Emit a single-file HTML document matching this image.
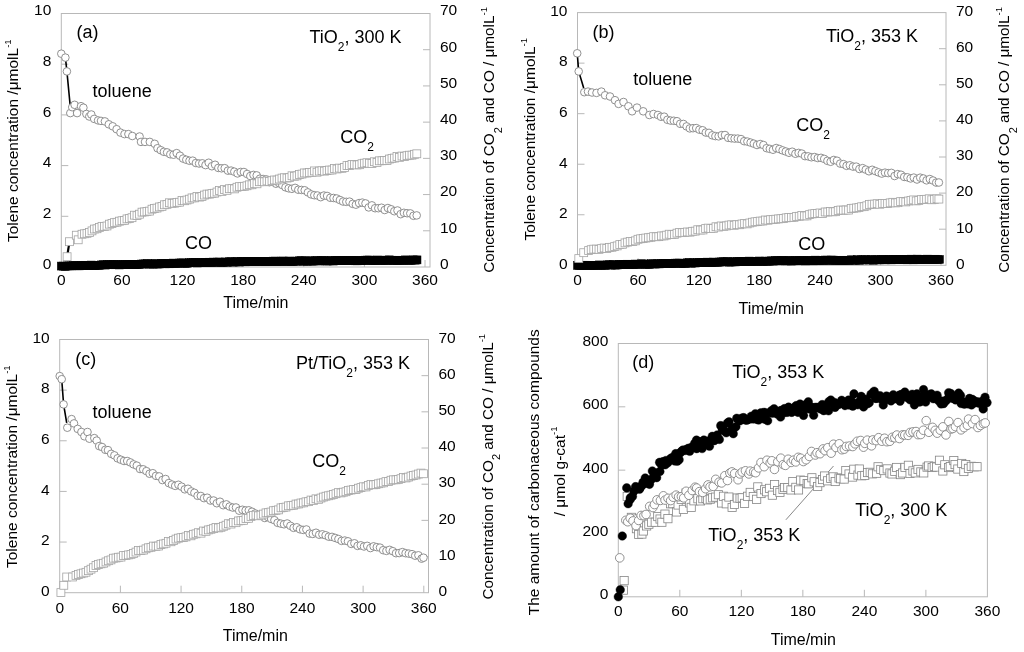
<!DOCTYPE html>
<html><head><meta charset="utf-8"><style>
html,body{margin:0;padding:0;background:#fff;}
body{width:1024px;height:652px;overflow:hidden;font-family:"Liberation Sans", sans-serif;}
svg{display:block;will-change:transform;}
</style></head><body>
<svg width="1024" height="652" viewBox="0 0 1024 652" font-family='"Liberation Sans", sans-serif' fill="#000"><rect width="1024" height="652" fill="#fff"/><rect x="61.3" y="13.5" width="368.70" height="253.50" fill="none" stroke="#b8b8b8" stroke-width="1"/><path d="M61.3 216.30h7 M61.3 165.60h7 M61.3 114.90h7 M61.3 64.20h7 M430 230.79h-7 M430 194.57h-7 M430 158.36h-7 M430 122.14h-7 M430 85.93h-7 M430 49.71h-7 M121.92 267v-7 M182.53 267v-7 M243.15 267v-7 M303.77 267v-7 M364.38 267v-7 M425.00 267v-7" stroke="#b8b8b8" stroke-width="1" fill="none"/><text x="51.30" y="268.80" font-size="15.5" text-anchor="end" >0</text><text x="51.30" y="218.10" font-size="15.5" text-anchor="end" >2</text><text x="51.30" y="167.40" font-size="15.5" text-anchor="end" >4</text><text x="51.30" y="116.70" font-size="15.5" text-anchor="end" >6</text><text x="51.30" y="66.00" font-size="15.5" text-anchor="end" >8</text><text x="51.30" y="15.30" font-size="15.5" text-anchor="end" >10</text><text x="440.00" y="268.80" font-size="15.5" text-anchor="start" >0</text><text x="440.00" y="232.59" font-size="15.5" text-anchor="start" >10</text><text x="440.00" y="196.37" font-size="15.5" text-anchor="start" >20</text><text x="440.00" y="160.16" font-size="15.5" text-anchor="start" >30</text><text x="440.00" y="123.94" font-size="15.5" text-anchor="start" >40</text><text x="440.00" y="87.73" font-size="15.5" text-anchor="start" >50</text><text x="440.00" y="51.51" font-size="15.5" text-anchor="start" >60</text><text x="440.00" y="15.30" font-size="15.5" text-anchor="start" >70</text><text x="61.30" y="285.30" font-size="15.5" text-anchor="middle" >0</text><text x="121.92" y="285.30" font-size="15.5" text-anchor="middle" >60</text><text x="182.53" y="285.30" font-size="15.5" text-anchor="middle" >120</text><text x="243.15" y="285.30" font-size="15.5" text-anchor="middle" >180</text><text x="303.77" y="285.30" font-size="15.5" text-anchor="middle" >240</text><text x="364.38" y="285.30" font-size="15.5" text-anchor="middle" >300</text><text x="425.00" y="285.30" font-size="15.5" text-anchor="middle" >360</text><rect x="577.5" y="12.6" width="368.50" height="252.70" fill="none" stroke="#b8b8b8" stroke-width="1"/><path d="M577.5 214.76h7 M577.5 164.22h7 M577.5 113.68h7 M577.5 63.14h7 M946.0 229.20h-7 M946.0 193.10h-7 M946.0 157.00h-7 M946.0 120.90h-7 M946.0 84.80h-7 M946.0 48.70h-7 M638.08 265.3v-7 M698.67 265.3v-7 M759.25 265.3v-7 M819.83 265.3v-7 M880.42 265.3v-7 M941.00 265.3v-7" stroke="#b8b8b8" stroke-width="1" fill="none"/><text x="567.50" y="268.60" font-size="15.5" text-anchor="end" >0</text><text x="567.50" y="218.06" font-size="15.5" text-anchor="end" >2</text><text x="567.50" y="167.52" font-size="15.5" text-anchor="end" >4</text><text x="567.50" y="116.98" font-size="15.5" text-anchor="end" >6</text><text x="567.50" y="66.44" font-size="15.5" text-anchor="end" >8</text><text x="567.50" y="15.90" font-size="15.5" text-anchor="end" >10</text><text x="956.00" y="268.60" font-size="15.5" text-anchor="start" >0</text><text x="956.00" y="232.50" font-size="15.5" text-anchor="start" >10</text><text x="956.00" y="196.40" font-size="15.5" text-anchor="start" >20</text><text x="956.00" y="160.30" font-size="15.5" text-anchor="start" >30</text><text x="956.00" y="124.20" font-size="15.5" text-anchor="start" >40</text><text x="956.00" y="88.10" font-size="15.5" text-anchor="start" >50</text><text x="956.00" y="52.00" font-size="15.5" text-anchor="start" >60</text><text x="956.00" y="15.90" font-size="15.5" text-anchor="start" >70</text><text x="577.50" y="285.00" font-size="15.5" text-anchor="middle" >0</text><text x="638.08" y="285.00" font-size="15.5" text-anchor="middle" >60</text><text x="698.67" y="285.00" font-size="15.5" text-anchor="middle" >120</text><text x="759.25" y="285.00" font-size="15.5" text-anchor="middle" >180</text><text x="819.83" y="285.00" font-size="15.5" text-anchor="middle" >240</text><text x="880.42" y="285.00" font-size="15.5" text-anchor="middle" >300</text><text x="941.00" y="285.00" font-size="15.5" text-anchor="middle" >360</text><rect x="59.7" y="339.5" width="368.80" height="253.20" fill="none" stroke="#b8b8b8" stroke-width="1"/><path d="M59.7 542.06h7 M59.7 491.42h7 M59.7 440.78h7 M59.7 390.14h7 M428.5 556.53h-7 M428.5 520.36h-7 M428.5 484.19h-7 M428.5 448.01h-7 M428.5 411.84h-7 M428.5 375.67h-7 M120.38 592.7v-7 M181.07 592.7v-7 M241.75 592.7v-7 M302.43 592.7v-7 M363.12 592.7v-7 M423.80 592.7v-7" stroke="#b8b8b8" stroke-width="1" fill="none"/><text x="49.70" y="596.00" font-size="15.5" text-anchor="end" >0</text><text x="49.70" y="545.36" font-size="15.5" text-anchor="end" >2</text><text x="49.70" y="494.72" font-size="15.5" text-anchor="end" >4</text><text x="49.70" y="444.08" font-size="15.5" text-anchor="end" >6</text><text x="49.70" y="393.44" font-size="15.5" text-anchor="end" >8</text><text x="49.70" y="342.80" font-size="15.5" text-anchor="end" >10</text><text x="438.50" y="596.00" font-size="15.5" text-anchor="start" >0</text><text x="438.50" y="559.83" font-size="15.5" text-anchor="start" >10</text><text x="438.50" y="523.66" font-size="15.5" text-anchor="start" >20</text><text x="438.50" y="487.49" font-size="15.5" text-anchor="start" >30</text><text x="438.50" y="451.31" font-size="15.5" text-anchor="start" >40</text><text x="438.50" y="415.14" font-size="15.5" text-anchor="start" >50</text><text x="438.50" y="378.97" font-size="15.5" text-anchor="start" >60</text><text x="438.50" y="342.80" font-size="15.5" text-anchor="start" >70</text><text x="59.70" y="613.20" font-size="15.5" text-anchor="middle" >0</text><text x="120.38" y="613.20" font-size="15.5" text-anchor="middle" >60</text><text x="181.07" y="613.20" font-size="15.5" text-anchor="middle" >120</text><text x="241.75" y="613.20" font-size="15.5" text-anchor="middle" >180</text><text x="302.43" y="613.20" font-size="15.5" text-anchor="middle" >240</text><text x="363.12" y="613.20" font-size="15.5" text-anchor="middle" >300</text><text x="423.80" y="613.20" font-size="15.5" text-anchor="middle" >360</text><polyline points="65.4,57.6 66.9,71.4 70.4,108" fill="none" stroke="#000" stroke-width="1.6"/><polyline points="67.1,256.7 69.5,241.7" fill="none" stroke="#000" stroke-width="2.2"/><g fill="#000" stroke="#000" stroke-width="0.5"><rect x="57.30" y="262.07" width="8.00" height="8.00"/><rect x="59.30" y="262.09" width="8.00" height="8.00"/><rect x="61.30" y="262.30" width="8.00" height="8.00"/><rect x="63.30" y="261.93" width="8.00" height="8.00"/><rect x="65.30" y="261.91" width="8.00" height="8.00"/><rect x="67.30" y="261.92" width="8.00" height="8.00"/><rect x="69.30" y="261.59" width="8.00" height="8.00"/><rect x="71.30" y="261.77" width="8.00" height="8.00"/><rect x="73.30" y="261.81" width="8.00" height="8.00"/><rect x="75.30" y="261.87" width="8.00" height="8.00"/><rect x="77.30" y="261.34" width="8.00" height="8.00"/><rect x="79.30" y="261.43" width="8.00" height="8.00"/><rect x="81.30" y="261.24" width="8.00" height="8.00"/><rect x="83.30" y="261.69" width="8.00" height="8.00"/><rect x="85.30" y="261.56" width="8.00" height="8.00"/><rect x="87.30" y="261.06" width="8.00" height="8.00"/><rect x="89.30" y="261.67" width="8.00" height="8.00"/><rect x="91.30" y="261.61" width="8.00" height="8.00"/><rect x="93.30" y="261.34" width="8.00" height="8.00"/><rect x="95.30" y="261.27" width="8.00" height="8.00"/><rect x="97.30" y="260.90" width="8.00" height="8.00"/><rect x="99.30" y="260.75" width="8.00" height="8.00"/><rect x="101.30" y="261.06" width="8.00" height="8.00"/><rect x="103.30" y="260.69" width="8.00" height="8.00"/><rect x="105.30" y="260.73" width="8.00" height="8.00"/><rect x="107.30" y="260.72" width="8.00" height="8.00"/><rect x="109.30" y="260.52" width="8.00" height="8.00"/><rect x="111.30" y="260.78" width="8.00" height="8.00"/><rect x="113.30" y="260.72" width="8.00" height="8.00"/><rect x="115.30" y="260.95" width="8.00" height="8.00"/><rect x="117.30" y="260.67" width="8.00" height="8.00"/><rect x="119.30" y="260.71" width="8.00" height="8.00"/><rect x="121.30" y="260.56" width="8.00" height="8.00"/><rect x="123.30" y="260.63" width="8.00" height="8.00"/><rect x="125.30" y="260.44" width="8.00" height="8.00"/><rect x="127.30" y="260.26" width="8.00" height="8.00"/><rect x="129.30" y="260.72" width="8.00" height="8.00"/><rect x="131.30" y="260.66" width="8.00" height="8.00"/><rect x="133.30" y="260.51" width="8.00" height="8.00"/><rect x="135.30" y="260.36" width="8.00" height="8.00"/><rect x="137.30" y="260.04" width="8.00" height="8.00"/><rect x="139.30" y="259.93" width="8.00" height="8.00"/><rect x="141.30" y="259.92" width="8.00" height="8.00"/><rect x="143.30" y="259.72" width="8.00" height="8.00"/><rect x="145.30" y="260.15" width="8.00" height="8.00"/><rect x="147.30" y="259.85" width="8.00" height="8.00"/><rect x="149.30" y="260.11" width="8.00" height="8.00"/><rect x="151.30" y="259.74" width="8.00" height="8.00"/><rect x="153.30" y="260.09" width="8.00" height="8.00"/><rect x="155.30" y="259.96" width="8.00" height="8.00"/><rect x="157.30" y="259.32" width="8.00" height="8.00"/><rect x="159.30" y="259.41" width="8.00" height="8.00"/><rect x="161.30" y="259.85" width="8.00" height="8.00"/><rect x="163.30" y="259.50" width="8.00" height="8.00"/><rect x="165.30" y="259.80" width="8.00" height="8.00"/><rect x="167.30" y="259.35" width="8.00" height="8.00"/><rect x="169.30" y="259.07" width="8.00" height="8.00"/><rect x="171.30" y="259.41" width="8.00" height="8.00"/><rect x="173.30" y="259.46" width="8.00" height="8.00"/><rect x="175.30" y="259.06" width="8.00" height="8.00"/><rect x="177.30" y="258.88" width="8.00" height="8.00"/><rect x="179.30" y="259.00" width="8.00" height="8.00"/><rect x="181.30" y="259.39" width="8.00" height="8.00"/><rect x="183.30" y="259.20" width="8.00" height="8.00"/><rect x="185.30" y="258.70" width="8.00" height="8.00"/><rect x="187.30" y="258.74" width="8.00" height="8.00"/><rect x="189.30" y="258.59" width="8.00" height="8.00"/><rect x="191.30" y="258.51" width="8.00" height="8.00"/><rect x="193.30" y="258.98" width="8.00" height="8.00"/><rect x="195.30" y="258.49" width="8.00" height="8.00"/><rect x="197.30" y="258.71" width="8.00" height="8.00"/><rect x="199.30" y="258.58" width="8.00" height="8.00"/><rect x="201.30" y="258.35" width="8.00" height="8.00"/><rect x="203.30" y="258.68" width="8.00" height="8.00"/><rect x="205.30" y="258.21" width="8.00" height="8.00"/><rect x="207.30" y="258.52" width="8.00" height="8.00"/><rect x="209.30" y="258.10" width="8.00" height="8.00"/><rect x="211.30" y="258.26" width="8.00" height="8.00"/><rect x="213.30" y="258.07" width="8.00" height="8.00"/><rect x="215.30" y="258.06" width="8.00" height="8.00"/><rect x="217.30" y="258.50" width="8.00" height="8.00"/><rect x="219.30" y="258.33" width="8.00" height="8.00"/><rect x="221.30" y="257.93" width="8.00" height="8.00"/><rect x="223.30" y="258.29" width="8.00" height="8.00"/><rect x="225.30" y="257.76" width="8.00" height="8.00"/><rect x="227.30" y="257.84" width="8.00" height="8.00"/><rect x="229.30" y="258.12" width="8.00" height="8.00"/><rect x="231.30" y="257.92" width="8.00" height="8.00"/><rect x="233.30" y="257.49" width="8.00" height="8.00"/><rect x="235.30" y="258.06" width="8.00" height="8.00"/><rect x="237.30" y="257.49" width="8.00" height="8.00"/><rect x="239.30" y="257.50" width="8.00" height="8.00"/><rect x="241.30" y="257.84" width="8.00" height="8.00"/><rect x="243.30" y="257.51" width="8.00" height="8.00"/><rect x="245.30" y="257.46" width="8.00" height="8.00"/><rect x="247.30" y="257.29" width="8.00" height="8.00"/><rect x="249.30" y="257.28" width="8.00" height="8.00"/><rect x="251.30" y="257.60" width="8.00" height="8.00"/><rect x="253.30" y="257.34" width="8.00" height="8.00"/><rect x="255.30" y="257.57" width="8.00" height="8.00"/><rect x="257.30" y="257.39" width="8.00" height="8.00"/><rect x="259.30" y="257.43" width="8.00" height="8.00"/><rect x="261.30" y="257.76" width="8.00" height="8.00"/><rect x="263.30" y="257.41" width="8.00" height="8.00"/><rect x="265.30" y="257.45" width="8.00" height="8.00"/><rect x="267.30" y="257.64" width="8.00" height="8.00"/><rect x="269.30" y="257.14" width="8.00" height="8.00"/><rect x="271.30" y="257.10" width="8.00" height="8.00"/><rect x="273.30" y="257.61" width="8.00" height="8.00"/><rect x="275.30" y="257.52" width="8.00" height="8.00"/><rect x="277.30" y="257.10" width="8.00" height="8.00"/><rect x="279.30" y="257.04" width="8.00" height="8.00"/><rect x="281.30" y="257.41" width="8.00" height="8.00"/><rect x="283.30" y="257.53" width="8.00" height="8.00"/><rect x="285.30" y="256.99" width="8.00" height="8.00"/><rect x="287.30" y="257.49" width="8.00" height="8.00"/><rect x="289.30" y="257.43" width="8.00" height="8.00"/><rect x="291.30" y="257.21" width="8.00" height="8.00"/><rect x="293.30" y="257.06" width="8.00" height="8.00"/><rect x="295.30" y="256.82" width="8.00" height="8.00"/><rect x="297.30" y="256.75" width="8.00" height="8.00"/><rect x="299.30" y="257.38" width="8.00" height="8.00"/><rect x="301.30" y="256.85" width="8.00" height="8.00"/><rect x="303.30" y="257.16" width="8.00" height="8.00"/><rect x="305.30" y="256.83" width="8.00" height="8.00"/><rect x="307.30" y="257.20" width="8.00" height="8.00"/><rect x="309.30" y="257.02" width="8.00" height="8.00"/><rect x="311.30" y="256.79" width="8.00" height="8.00"/><rect x="313.30" y="256.69" width="8.00" height="8.00"/><rect x="315.30" y="257.05" width="8.00" height="8.00"/><rect x="317.30" y="256.57" width="8.00" height="8.00"/><rect x="319.30" y="256.66" width="8.00" height="8.00"/><rect x="321.30" y="256.87" width="8.00" height="8.00"/><rect x="323.30" y="257.06" width="8.00" height="8.00"/><rect x="325.30" y="256.87" width="8.00" height="8.00"/><rect x="327.30" y="256.62" width="8.00" height="8.00"/><rect x="329.30" y="257.04" width="8.00" height="8.00"/><rect x="331.30" y="256.52" width="8.00" height="8.00"/><rect x="333.30" y="256.37" width="8.00" height="8.00"/><rect x="335.30" y="256.53" width="8.00" height="8.00"/><rect x="337.30" y="256.63" width="8.00" height="8.00"/><rect x="339.30" y="256.34" width="8.00" height="8.00"/><rect x="341.30" y="256.40" width="8.00" height="8.00"/><rect x="343.30" y="256.52" width="8.00" height="8.00"/><rect x="345.30" y="256.64" width="8.00" height="8.00"/><rect x="347.30" y="256.31" width="8.00" height="8.00"/><rect x="349.30" y="256.45" width="8.00" height="8.00"/><rect x="351.30" y="256.80" width="8.00" height="8.00"/><rect x="353.30" y="256.84" width="8.00" height="8.00"/><rect x="355.30" y="256.60" width="8.00" height="8.00"/><rect x="357.30" y="256.60" width="8.00" height="8.00"/><rect x="359.30" y="256.51" width="8.00" height="8.00"/><rect x="361.30" y="256.17" width="8.00" height="8.00"/><rect x="363.30" y="256.08" width="8.00" height="8.00"/><rect x="365.30" y="256.05" width="8.00" height="8.00"/><rect x="367.30" y="256.65" width="8.00" height="8.00"/><rect x="369.30" y="256.49" width="8.00" height="8.00"/><rect x="371.30" y="256.65" width="8.00" height="8.00"/><rect x="373.30" y="255.97" width="8.00" height="8.00"/><rect x="375.30" y="256.38" width="8.00" height="8.00"/><rect x="377.30" y="256.25" width="8.00" height="8.00"/><rect x="379.30" y="256.40" width="8.00" height="8.00"/><rect x="381.30" y="256.10" width="8.00" height="8.00"/><rect x="383.30" y="256.55" width="8.00" height="8.00"/><rect x="385.30" y="255.88" width="8.00" height="8.00"/><rect x="387.30" y="256.19" width="8.00" height="8.00"/><rect x="389.30" y="256.31" width="8.00" height="8.00"/><rect x="391.30" y="256.40" width="8.00" height="8.00"/><rect x="393.30" y="256.27" width="8.00" height="8.00"/><rect x="395.30" y="256.22" width="8.00" height="8.00"/><rect x="397.30" y="256.26" width="8.00" height="8.00"/><rect x="399.30" y="256.33" width="8.00" height="8.00"/><rect x="401.30" y="255.92" width="8.00" height="8.00"/><rect x="403.30" y="256.13" width="8.00" height="8.00"/><rect x="405.30" y="256.26" width="8.00" height="8.00"/><rect x="407.30" y="256.22" width="8.00" height="8.00"/><rect x="409.30" y="255.88" width="8.00" height="8.00"/><rect x="411.30" y="256.12" width="8.00" height="8.00"/><rect x="413.00" y="255.90" width="8.00" height="8.00"/></g><g fill="#fff" stroke="#858585" stroke-width="0.9"><circle cx="61.30" cy="53.70" r="3.8"/><circle cx="65.40" cy="57.60" r="3.8"/><circle cx="66.90" cy="71.40" r="3.8"/><circle cx="70.30" cy="113.10" r="3.8"/><circle cx="72.20" cy="107.20" r="3.8"/><circle cx="74.60" cy="104.80" r="3.8"/><circle cx="77.10" cy="113.10" r="3.8"/><circle cx="81.00" cy="106.20" r="3.8"/><circle cx="83.40" cy="107.70" r="3.8"/><circle cx="86.40" cy="114.00" r="3.8"/><circle cx="89.30" cy="116.50" r="3.8"/><circle cx="91.30" cy="114.50" r="3.8"/><circle cx="94.20" cy="118.90" r="3.8"/><circle cx="98.10" cy="120.40" r="3.8"/><circle cx="101.00" cy="120.90" r="3.8"/><circle cx="104.90" cy="121.40" r="3.8"/><circle cx="108.80" cy="124.30" r="3.8"/><circle cx="112.70" cy="126.30" r="3.8"/><circle cx="116.60" cy="129.20" r="3.8"/><circle cx="120.50" cy="132.60" r="3.8"/><circle cx="124.50" cy="134.10" r="3.8"/><circle cx="128.40" cy="134.10" r="3.8"/><circle cx="132.30" cy="136.00" r="3.8"/><circle cx="139.60" cy="136.50" r="3.8"/><circle cx="141.00" cy="141.90" r="3.8"/><circle cx="145.00" cy="141.90" r="3.8"/><circle cx="149.80" cy="141.90" r="3.8"/><circle cx="154.70" cy="143.80" r="3.8"/><circle cx="157.50" cy="148.24" r="3.8"/><circle cx="160.70" cy="150.17" r="3.8"/><circle cx="163.90" cy="151.81" r="3.8"/><circle cx="167.10" cy="152.39" r="3.8"/><circle cx="170.30" cy="154.28" r="3.8"/><circle cx="173.50" cy="154.70" r="3.8"/><circle cx="176.70" cy="153.12" r="3.8"/><circle cx="179.90" cy="155.70" r="3.8"/><circle cx="183.10" cy="158.58" r="3.8"/><circle cx="186.30" cy="159.77" r="3.8"/><circle cx="189.50" cy="160.76" r="3.8"/><circle cx="192.70" cy="160.66" r="3.8"/><circle cx="195.90" cy="163.03" r="3.8"/><circle cx="199.10" cy="163.52" r="3.8"/><circle cx="202.30" cy="163.34" r="3.8"/><circle cx="205.50" cy="165.10" r="3.8"/><circle cx="208.70" cy="162.74" r="3.8"/><circle cx="211.90" cy="166.25" r="3.8"/><circle cx="215.10" cy="164.76" r="3.8"/><circle cx="218.30" cy="167.93" r="3.8"/><circle cx="221.50" cy="168.30" r="3.8"/><circle cx="224.70" cy="168.19" r="3.8"/><circle cx="227.90" cy="170.66" r="3.8"/><circle cx="231.10" cy="170.60" r="3.8"/><circle cx="234.30" cy="171.68" r="3.8"/><circle cx="237.50" cy="173.43" r="3.8"/><circle cx="240.70" cy="171.95" r="3.8"/><circle cx="243.90" cy="172.02" r="3.8"/><circle cx="247.10" cy="174.01" r="3.8"/><circle cx="250.30" cy="176.03" r="3.8"/><circle cx="253.50" cy="174.91" r="3.8"/><circle cx="256.70" cy="175.39" r="3.8"/><circle cx="259.90" cy="178.71" r="3.8"/><circle cx="263.10" cy="179.00" r="3.8"/><circle cx="266.30" cy="179.39" r="3.8"/><circle cx="269.50" cy="182.18" r="3.8"/><circle cx="272.70" cy="181.33" r="3.8"/><circle cx="275.90" cy="183.69" r="3.8"/><circle cx="279.10" cy="183.11" r="3.8"/><circle cx="282.30" cy="185.06" r="3.8"/><circle cx="285.50" cy="187.30" r="3.8"/><circle cx="288.70" cy="188.31" r="3.8"/><circle cx="291.90" cy="188.82" r="3.8"/><circle cx="295.10" cy="187.88" r="3.8"/><circle cx="298.30" cy="189.74" r="3.8"/><circle cx="301.50" cy="189.93" r="3.8"/><circle cx="304.70" cy="190.29" r="3.8"/><circle cx="307.90" cy="192.38" r="3.8"/><circle cx="311.10" cy="194.39" r="3.8"/><circle cx="314.30" cy="195.22" r="3.8"/><circle cx="317.50" cy="195.51" r="3.8"/><circle cx="320.70" cy="197.16" r="3.8"/><circle cx="323.90" cy="195.53" r="3.8"/><circle cx="327.10" cy="195.95" r="3.8"/><circle cx="330.30" cy="197.78" r="3.8"/><circle cx="333.50" cy="197.96" r="3.8"/><circle cx="336.70" cy="198.51" r="3.8"/><circle cx="339.90" cy="200.00" r="3.8"/><circle cx="343.10" cy="201.54" r="3.8"/><circle cx="346.30" cy="201.84" r="3.8"/><circle cx="349.50" cy="201.65" r="3.8"/><circle cx="352.70" cy="203.85" r="3.8"/><circle cx="355.90" cy="204.68" r="3.8"/><circle cx="359.10" cy="203.09" r="3.8"/><circle cx="362.30" cy="202.61" r="3.8"/><circle cx="365.50" cy="203.42" r="3.8"/><circle cx="368.70" cy="207.41" r="3.8"/><circle cx="371.90" cy="205.36" r="3.8"/><circle cx="375.10" cy="208.23" r="3.8"/><circle cx="378.30" cy="208.21" r="3.8"/><circle cx="381.50" cy="207.73" r="3.8"/><circle cx="384.70" cy="210.00" r="3.8"/><circle cx="387.90" cy="208.03" r="3.8"/><circle cx="391.10" cy="209.27" r="3.8"/><circle cx="394.30" cy="211.23" r="3.8"/><circle cx="397.50" cy="210.48" r="3.8"/><circle cx="400.70" cy="214.16" r="3.8"/><circle cx="403.90" cy="212.81" r="3.8"/><circle cx="407.10" cy="213.24" r="3.8"/><circle cx="410.30" cy="213.41" r="3.8"/><circle cx="413.50" cy="215.78" r="3.8"/><circle cx="416.70" cy="215.40" r="3.8"/></g><g fill="#fff" stroke="#a4a4a4" stroke-width="0.8"><rect x="63.15" y="252.75" width="7.90" height="7.90"/><rect x="65.55" y="237.75" width="7.90" height="7.90"/><rect x="72.35" y="231.25" width="7.90" height="7.90"/><rect x="74.25" y="235.85" width="7.90" height="7.90"/><rect x="78.05" y="230.28" width="7.90" height="7.90"/><rect x="80.55" y="229.83" width="7.90" height="7.90"/><rect x="83.05" y="229.36" width="7.90" height="7.90"/><rect x="85.55" y="228.52" width="7.90" height="7.90"/><rect x="88.05" y="226.92" width="7.90" height="7.90"/><rect x="90.55" y="225.10" width="7.90" height="7.90"/><rect x="93.05" y="224.80" width="7.90" height="7.90"/><rect x="95.55" y="223.47" width="7.90" height="7.90"/><rect x="98.05" y="222.38" width="7.90" height="7.90"/><rect x="100.55" y="222.40" width="7.90" height="7.90"/><rect x="103.05" y="222.02" width="7.90" height="7.90"/><rect x="105.55" y="220.23" width="7.90" height="7.90"/><rect x="108.05" y="219.54" width="7.90" height="7.90"/><rect x="110.55" y="218.67" width="7.90" height="7.90"/><rect x="113.05" y="218.31" width="7.90" height="7.90"/><rect x="115.55" y="217.22" width="7.90" height="7.90"/><rect x="118.05" y="216.78" width="7.90" height="7.90"/><rect x="120.55" y="216.43" width="7.90" height="7.90"/><rect x="123.05" y="214.95" width="7.90" height="7.90"/><rect x="125.55" y="214.61" width="7.90" height="7.90"/><rect x="128.05" y="213.76" width="7.90" height="7.90"/><rect x="130.55" y="211.23" width="7.90" height="7.90"/><rect x="133.05" y="211.69" width="7.90" height="7.90"/><rect x="135.55" y="210.25" width="7.90" height="7.90"/><rect x="138.05" y="208.19" width="7.90" height="7.90"/><rect x="140.55" y="207.96" width="7.90" height="7.90"/><rect x="143.05" y="207.45" width="7.90" height="7.90"/><rect x="145.55" y="207.15" width="7.90" height="7.90"/><rect x="148.05" y="205.23" width="7.90" height="7.90"/><rect x="150.55" y="204.58" width="7.90" height="7.90"/><rect x="153.05" y="204.15" width="7.90" height="7.90"/><rect x="155.55" y="203.00" width="7.90" height="7.90"/><rect x="158.05" y="202.47" width="7.90" height="7.90"/><rect x="160.55" y="200.83" width="7.90" height="7.90"/><rect x="163.05" y="200.40" width="7.90" height="7.90"/><rect x="165.55" y="198.82" width="7.90" height="7.90"/><rect x="168.05" y="199.39" width="7.90" height="7.90"/><rect x="170.55" y="199.21" width="7.90" height="7.90"/><rect x="173.05" y="198.53" width="7.90" height="7.90"/><rect x="175.55" y="198.27" width="7.90" height="7.90"/><rect x="178.05" y="196.47" width="7.90" height="7.90"/><rect x="180.55" y="196.81" width="7.90" height="7.90"/><rect x="183.05" y="196.06" width="7.90" height="7.90"/><rect x="185.55" y="195.23" width="7.90" height="7.90"/><rect x="188.05" y="193.95" width="7.90" height="7.90"/><rect x="190.55" y="193.92" width="7.90" height="7.90"/><rect x="193.05" y="192.58" width="7.90" height="7.90"/><rect x="195.55" y="193.15" width="7.90" height="7.90"/><rect x="198.05" y="192.54" width="7.90" height="7.90"/><rect x="200.55" y="191.11" width="7.90" height="7.90"/><rect x="203.05" y="190.13" width="7.90" height="7.90"/><rect x="205.55" y="190.18" width="7.90" height="7.90"/><rect x="208.05" y="189.63" width="7.90" height="7.90"/><rect x="210.55" y="189.29" width="7.90" height="7.90"/><rect x="213.05" y="188.04" width="7.90" height="7.90"/><rect x="215.55" y="186.57" width="7.90" height="7.90"/><rect x="218.05" y="187.46" width="7.90" height="7.90"/><rect x="220.55" y="185.61" width="7.90" height="7.90"/><rect x="223.05" y="186.42" width="7.90" height="7.90"/><rect x="225.55" y="184.79" width="7.90" height="7.90"/><rect x="228.05" y="184.60" width="7.90" height="7.90"/><rect x="230.55" y="184.93" width="7.90" height="7.90"/><rect x="233.05" y="183.28" width="7.90" height="7.90"/><rect x="235.55" y="182.67" width="7.90" height="7.90"/><rect x="238.05" y="182.64" width="7.90" height="7.90"/><rect x="240.55" y="182.32" width="7.90" height="7.90"/><rect x="243.05" y="181.84" width="7.90" height="7.90"/><rect x="245.55" y="180.87" width="7.90" height="7.90"/><rect x="248.05" y="180.82" width="7.90" height="7.90"/><rect x="250.55" y="179.52" width="7.90" height="7.90"/><rect x="253.05" y="179.85" width="7.90" height="7.90"/><rect x="255.55" y="177.80" width="7.90" height="7.90"/><rect x="258.05" y="177.67" width="7.90" height="7.90"/><rect x="260.55" y="177.83" width="7.90" height="7.90"/><rect x="263.05" y="177.02" width="7.90" height="7.90"/><rect x="265.55" y="177.42" width="7.90" height="7.90"/><rect x="268.05" y="176.75" width="7.90" height="7.90"/><rect x="270.55" y="176.03" width="7.90" height="7.90"/><rect x="273.05" y="176.10" width="7.90" height="7.90"/><rect x="275.55" y="175.08" width="7.90" height="7.90"/><rect x="278.05" y="174.14" width="7.90" height="7.90"/><rect x="280.55" y="173.78" width="7.90" height="7.90"/><rect x="283.05" y="174.12" width="7.90" height="7.90"/><rect x="285.55" y="173.69" width="7.90" height="7.90"/><rect x="288.05" y="171.81" width="7.90" height="7.90"/><rect x="290.55" y="172.33" width="7.90" height="7.90"/><rect x="293.05" y="171.90" width="7.90" height="7.90"/><rect x="295.55" y="170.52" width="7.90" height="7.90"/><rect x="298.05" y="170.12" width="7.90" height="7.90"/><rect x="300.55" y="168.97" width="7.90" height="7.90"/><rect x="303.05" y="169.09" width="7.90" height="7.90"/><rect x="305.55" y="168.59" width="7.90" height="7.90"/><rect x="308.05" y="168.38" width="7.90" height="7.90"/><rect x="310.55" y="166.96" width="7.90" height="7.90"/><rect x="313.05" y="168.27" width="7.90" height="7.90"/><rect x="315.55" y="167.15" width="7.90" height="7.90"/><rect x="318.05" y="166.71" width="7.90" height="7.90"/><rect x="320.55" y="167.20" width="7.90" height="7.90"/><rect x="323.05" y="166.55" width="7.90" height="7.90"/><rect x="325.55" y="166.09" width="7.90" height="7.90"/><rect x="328.05" y="166.07" width="7.90" height="7.90"/><rect x="330.55" y="164.56" width="7.90" height="7.90"/><rect x="333.05" y="165.03" width="7.90" height="7.90"/><rect x="335.55" y="164.15" width="7.90" height="7.90"/><rect x="338.05" y="164.37" width="7.90" height="7.90"/><rect x="340.55" y="163.56" width="7.90" height="7.90"/><rect x="343.05" y="161.63" width="7.90" height="7.90"/><rect x="345.55" y="161.56" width="7.90" height="7.90"/><rect x="348.05" y="160.55" width="7.90" height="7.90"/><rect x="350.55" y="160.71" width="7.90" height="7.90"/><rect x="353.05" y="161.01" width="7.90" height="7.90"/><rect x="355.55" y="160.77" width="7.90" height="7.90"/><rect x="358.05" y="159.76" width="7.90" height="7.90"/><rect x="360.55" y="159.23" width="7.90" height="7.90"/><rect x="363.05" y="158.76" width="7.90" height="7.90"/><rect x="365.55" y="159.29" width="7.90" height="7.90"/><rect x="368.05" y="159.59" width="7.90" height="7.90"/><rect x="370.55" y="157.79" width="7.90" height="7.90"/><rect x="373.05" y="158.59" width="7.90" height="7.90"/><rect x="375.55" y="156.86" width="7.90" height="7.90"/><rect x="378.05" y="156.81" width="7.90" height="7.90"/><rect x="380.55" y="156.44" width="7.90" height="7.90"/><rect x="383.05" y="156.51" width="7.90" height="7.90"/><rect x="385.55" y="155.09" width="7.90" height="7.90"/><rect x="388.05" y="154.39" width="7.90" height="7.90"/><rect x="390.55" y="154.11" width="7.90" height="7.90"/><rect x="393.05" y="152.56" width="7.90" height="7.90"/><rect x="395.55" y="153.43" width="7.90" height="7.90"/><rect x="398.05" y="152.07" width="7.90" height="7.90"/><rect x="400.55" y="152.50" width="7.90" height="7.90"/><rect x="403.05" y="151.77" width="7.90" height="7.90"/><rect x="405.55" y="151.26" width="7.90" height="7.90"/><rect x="408.05" y="151.19" width="7.90" height="7.90"/><rect x="410.55" y="150.35" width="7.90" height="7.90"/><rect x="412.85" y="149.85" width="7.90" height="7.90"/></g><polyline points="577.2,53.3 578.7,71.4 583.7,88" fill="none" stroke="#000" stroke-width="1.6"/><g fill="#000" stroke="#000" stroke-width="0.5"><rect x="573.50" y="261.51" width="8.00" height="8.00"/><rect x="575.50" y="261.49" width="8.00" height="8.00"/><rect x="577.50" y="261.53" width="8.00" height="8.00"/><rect x="579.50" y="261.23" width="8.00" height="8.00"/><rect x="581.50" y="261.22" width="8.00" height="8.00"/><rect x="583.50" y="261.47" width="8.00" height="8.00"/><rect x="585.50" y="261.43" width="8.00" height="8.00"/><rect x="587.50" y="261.31" width="8.00" height="8.00"/><rect x="589.50" y="261.49" width="8.00" height="8.00"/><rect x="591.50" y="261.28" width="8.00" height="8.00"/><rect x="593.50" y="261.41" width="8.00" height="8.00"/><rect x="595.50" y="260.92" width="8.00" height="8.00"/><rect x="597.50" y="261.24" width="8.00" height="8.00"/><rect x="599.50" y="261.24" width="8.00" height="8.00"/><rect x="601.50" y="261.26" width="8.00" height="8.00"/><rect x="603.50" y="260.80" width="8.00" height="8.00"/><rect x="605.50" y="260.76" width="8.00" height="8.00"/><rect x="607.50" y="261.14" width="8.00" height="8.00"/><rect x="609.50" y="260.60" width="8.00" height="8.00"/><rect x="611.50" y="261.10" width="8.00" height="8.00"/><rect x="613.50" y="260.98" width="8.00" height="8.00"/><rect x="615.50" y="260.41" width="8.00" height="8.00"/><rect x="617.50" y="260.44" width="8.00" height="8.00"/><rect x="619.50" y="260.74" width="8.00" height="8.00"/><rect x="621.50" y="260.36" width="8.00" height="8.00"/><rect x="623.50" y="260.21" width="8.00" height="8.00"/><rect x="625.50" y="260.68" width="8.00" height="8.00"/><rect x="627.50" y="260.35" width="8.00" height="8.00"/><rect x="629.50" y="260.56" width="8.00" height="8.00"/><rect x="631.50" y="260.05" width="8.00" height="8.00"/><rect x="633.50" y="260.20" width="8.00" height="8.00"/><rect x="635.50" y="260.35" width="8.00" height="8.00"/><rect x="637.50" y="259.84" width="8.00" height="8.00"/><rect x="639.50" y="259.92" width="8.00" height="8.00"/><rect x="641.50" y="260.22" width="8.00" height="8.00"/><rect x="643.50" y="260.33" width="8.00" height="8.00"/><rect x="645.50" y="260.33" width="8.00" height="8.00"/><rect x="647.50" y="259.69" width="8.00" height="8.00"/><rect x="649.50" y="259.92" width="8.00" height="8.00"/><rect x="651.50" y="260.05" width="8.00" height="8.00"/><rect x="653.50" y="259.82" width="8.00" height="8.00"/><rect x="655.50" y="259.91" width="8.00" height="8.00"/><rect x="657.50" y="259.52" width="8.00" height="8.00"/><rect x="659.50" y="259.39" width="8.00" height="8.00"/><rect x="661.50" y="259.37" width="8.00" height="8.00"/><rect x="663.50" y="259.28" width="8.00" height="8.00"/><rect x="665.50" y="259.59" width="8.00" height="8.00"/><rect x="667.50" y="259.52" width="8.00" height="8.00"/><rect x="669.50" y="259.50" width="8.00" height="8.00"/><rect x="671.50" y="259.15" width="8.00" height="8.00"/><rect x="673.50" y="259.12" width="8.00" height="8.00"/><rect x="675.50" y="259.08" width="8.00" height="8.00"/><rect x="677.50" y="259.46" width="8.00" height="8.00"/><rect x="679.50" y="259.51" width="8.00" height="8.00"/><rect x="681.50" y="259.41" width="8.00" height="8.00"/><rect x="683.50" y="258.77" width="8.00" height="8.00"/><rect x="685.50" y="258.69" width="8.00" height="8.00"/><rect x="687.50" y="259.25" width="8.00" height="8.00"/><rect x="689.50" y="258.85" width="8.00" height="8.00"/><rect x="691.50" y="259.01" width="8.00" height="8.00"/><rect x="693.50" y="258.64" width="8.00" height="8.00"/><rect x="695.50" y="258.68" width="8.00" height="8.00"/><rect x="697.50" y="258.66" width="8.00" height="8.00"/><rect x="699.50" y="258.54" width="8.00" height="8.00"/><rect x="701.50" y="258.60" width="8.00" height="8.00"/><rect x="703.50" y="258.13" width="8.00" height="8.00"/><rect x="705.50" y="258.56" width="8.00" height="8.00"/><rect x="707.50" y="258.60" width="8.00" height="8.00"/><rect x="709.50" y="258.08" width="8.00" height="8.00"/><rect x="711.50" y="258.21" width="8.00" height="8.00"/><rect x="713.50" y="258.35" width="8.00" height="8.00"/><rect x="715.50" y="258.06" width="8.00" height="8.00"/><rect x="717.50" y="257.86" width="8.00" height="8.00"/><rect x="719.50" y="257.78" width="8.00" height="8.00"/><rect x="721.50" y="257.96" width="8.00" height="8.00"/><rect x="723.50" y="257.56" width="8.00" height="8.00"/><rect x="725.50" y="258.11" width="8.00" height="8.00"/><rect x="727.50" y="257.99" width="8.00" height="8.00"/><rect x="729.50" y="257.86" width="8.00" height="8.00"/><rect x="731.50" y="257.92" width="8.00" height="8.00"/><rect x="733.50" y="257.70" width="8.00" height="8.00"/><rect x="735.50" y="257.48" width="8.00" height="8.00"/><rect x="737.50" y="257.56" width="8.00" height="8.00"/><rect x="739.50" y="257.44" width="8.00" height="8.00"/><rect x="741.50" y="257.71" width="8.00" height="8.00"/><rect x="743.50" y="257.53" width="8.00" height="8.00"/><rect x="745.50" y="257.09" width="8.00" height="8.00"/><rect x="747.50" y="257.49" width="8.00" height="8.00"/><rect x="749.50" y="257.31" width="8.00" height="8.00"/><rect x="751.50" y="257.29" width="8.00" height="8.00"/><rect x="753.50" y="257.29" width="8.00" height="8.00"/><rect x="755.50" y="256.99" width="8.00" height="8.00"/><rect x="757.50" y="257.31" width="8.00" height="8.00"/><rect x="759.50" y="257.28" width="8.00" height="8.00"/><rect x="761.50" y="257.13" width="8.00" height="8.00"/><rect x="763.50" y="257.16" width="8.00" height="8.00"/><rect x="765.50" y="257.14" width="8.00" height="8.00"/><rect x="767.50" y="256.86" width="8.00" height="8.00"/><rect x="769.50" y="257.07" width="8.00" height="8.00"/><rect x="771.50" y="256.59" width="8.00" height="8.00"/><rect x="773.50" y="256.76" width="8.00" height="8.00"/><rect x="775.50" y="256.83" width="8.00" height="8.00"/><rect x="777.50" y="256.48" width="8.00" height="8.00"/><rect x="779.50" y="256.71" width="8.00" height="8.00"/><rect x="781.50" y="256.88" width="8.00" height="8.00"/><rect x="783.50" y="256.85" width="8.00" height="8.00"/><rect x="785.50" y="256.56" width="8.00" height="8.00"/><rect x="787.50" y="257.04" width="8.00" height="8.00"/><rect x="789.50" y="256.82" width="8.00" height="8.00"/><rect x="791.50" y="256.57" width="8.00" height="8.00"/><rect x="793.50" y="256.77" width="8.00" height="8.00"/><rect x="795.50" y="256.69" width="8.00" height="8.00"/><rect x="797.50" y="256.64" width="8.00" height="8.00"/><rect x="799.50" y="256.52" width="8.00" height="8.00"/><rect x="801.50" y="256.93" width="8.00" height="8.00"/><rect x="803.50" y="256.66" width="8.00" height="8.00"/><rect x="805.50" y="256.68" width="8.00" height="8.00"/><rect x="807.50" y="256.70" width="8.00" height="8.00"/><rect x="809.50" y="256.83" width="8.00" height="8.00"/><rect x="811.50" y="256.14" width="8.00" height="8.00"/><rect x="813.50" y="256.54" width="8.00" height="8.00"/><rect x="815.50" y="256.60" width="8.00" height="8.00"/><rect x="817.50" y="256.24" width="8.00" height="8.00"/><rect x="819.50" y="256.33" width="8.00" height="8.00"/><rect x="821.50" y="256.06" width="8.00" height="8.00"/><rect x="823.50" y="256.14" width="8.00" height="8.00"/><rect x="825.50" y="256.25" width="8.00" height="8.00"/><rect x="827.50" y="256.03" width="8.00" height="8.00"/><rect x="829.50" y="256.12" width="8.00" height="8.00"/><rect x="831.50" y="256.55" width="8.00" height="8.00"/><rect x="833.50" y="256.29" width="8.00" height="8.00"/><rect x="835.50" y="256.24" width="8.00" height="8.00"/><rect x="837.50" y="256.54" width="8.00" height="8.00"/><rect x="839.50" y="256.24" width="8.00" height="8.00"/><rect x="841.50" y="256.51" width="8.00" height="8.00"/><rect x="843.50" y="256.24" width="8.00" height="8.00"/><rect x="845.50" y="256.34" width="8.00" height="8.00"/><rect x="847.50" y="255.81" width="8.00" height="8.00"/><rect x="849.50" y="256.15" width="8.00" height="8.00"/><rect x="851.50" y="256.25" width="8.00" height="8.00"/><rect x="853.50" y="255.73" width="8.00" height="8.00"/><rect x="855.50" y="256.32" width="8.00" height="8.00"/><rect x="857.50" y="255.77" width="8.00" height="8.00"/><rect x="859.50" y="255.96" width="8.00" height="8.00"/><rect x="861.50" y="255.73" width="8.00" height="8.00"/><rect x="863.50" y="255.94" width="8.00" height="8.00"/><rect x="865.50" y="256.00" width="8.00" height="8.00"/><rect x="867.50" y="255.59" width="8.00" height="8.00"/><rect x="869.50" y="256.19" width="8.00" height="8.00"/><rect x="871.50" y="255.80" width="8.00" height="8.00"/><rect x="873.50" y="255.86" width="8.00" height="8.00"/><rect x="875.50" y="255.89" width="8.00" height="8.00"/><rect x="877.50" y="255.70" width="8.00" height="8.00"/><rect x="879.50" y="255.63" width="8.00" height="8.00"/><rect x="881.50" y="255.86" width="8.00" height="8.00"/><rect x="883.50" y="255.78" width="8.00" height="8.00"/><rect x="885.50" y="255.56" width="8.00" height="8.00"/><rect x="887.50" y="255.85" width="8.00" height="8.00"/><rect x="889.50" y="255.53" width="8.00" height="8.00"/><rect x="891.50" y="255.31" width="8.00" height="8.00"/><rect x="893.50" y="255.45" width="8.00" height="8.00"/><rect x="895.50" y="255.29" width="8.00" height="8.00"/><rect x="897.50" y="255.35" width="8.00" height="8.00"/><rect x="899.50" y="255.75" width="8.00" height="8.00"/><rect x="901.50" y="255.47" width="8.00" height="8.00"/><rect x="903.50" y="255.81" width="8.00" height="8.00"/><rect x="905.50" y="255.68" width="8.00" height="8.00"/><rect x="907.50" y="255.17" width="8.00" height="8.00"/><rect x="909.50" y="255.81" width="8.00" height="8.00"/><rect x="911.50" y="255.76" width="8.00" height="8.00"/><rect x="913.50" y="255.13" width="8.00" height="8.00"/><rect x="915.50" y="255.69" width="8.00" height="8.00"/><rect x="917.50" y="255.34" width="8.00" height="8.00"/><rect x="919.50" y="255.35" width="8.00" height="8.00"/><rect x="921.50" y="255.68" width="8.00" height="8.00"/><rect x="923.50" y="255.14" width="8.00" height="8.00"/><rect x="925.50" y="255.32" width="8.00" height="8.00"/><rect x="927.50" y="255.59" width="8.00" height="8.00"/><rect x="929.50" y="255.42" width="8.00" height="8.00"/><rect x="931.50" y="255.22" width="8.00" height="8.00"/><rect x="933.50" y="255.56" width="8.00" height="8.00"/><rect x="935.50" y="255.42" width="8.00" height="8.00"/></g><g fill="#fff" stroke="#858585" stroke-width="0.9"><circle cx="577.20" cy="53.30" r="3.8"/><circle cx="578.70" cy="71.40" r="3.8"/><circle cx="584.30" cy="92.20" r="3.8"/><circle cx="588.00" cy="91.60" r="3.8"/><circle cx="592.00" cy="92.50" r="3.8"/><circle cx="596.50" cy="92.90" r="3.8"/><circle cx="601.40" cy="91.60" r="3.8"/><circle cx="605.10" cy="95.30" r="3.8"/><circle cx="610.00" cy="96.50" r="3.8"/><circle cx="615.00" cy="100.20" r="3.8"/><circle cx="618.60" cy="103.90" r="3.8"/><circle cx="623.50" cy="102.00" r="3.8"/><circle cx="628.40" cy="106.30" r="3.8"/><circle cx="632.10" cy="111.30" r="3.8"/><circle cx="637.00" cy="107.60" r="3.8"/><circle cx="643.20" cy="111.30" r="3.8"/><circle cx="649.30" cy="115.00" r="3.8"/><circle cx="653.50" cy="114.00" r="3.8"/><circle cx="657.90" cy="115.00" r="3.8"/><circle cx="661.00" cy="116.76" r="3.8"/><circle cx="664.20" cy="116.68" r="3.8"/><circle cx="667.40" cy="119.79" r="3.8"/><circle cx="670.60" cy="120.60" r="3.8"/><circle cx="673.80" cy="120.75" r="3.8"/><circle cx="677.00" cy="121.22" r="3.8"/><circle cx="680.20" cy="123.80" r="3.8"/><circle cx="683.40" cy="123.95" r="3.8"/><circle cx="686.60" cy="126.40" r="3.8"/><circle cx="689.80" cy="128.41" r="3.8"/><circle cx="693.00" cy="128.22" r="3.8"/><circle cx="696.20" cy="128.09" r="3.8"/><circle cx="699.40" cy="129.67" r="3.8"/><circle cx="702.60" cy="130.27" r="3.8"/><circle cx="705.80" cy="132.54" r="3.8"/><circle cx="709.00" cy="132.86" r="3.8"/><circle cx="712.20" cy="135.30" r="3.8"/><circle cx="715.40" cy="136.10" r="3.8"/><circle cx="718.60" cy="136.35" r="3.8"/><circle cx="721.80" cy="135.09" r="3.8"/><circle cx="725.00" cy="135.02" r="3.8"/><circle cx="728.20" cy="137.84" r="3.8"/><circle cx="731.40" cy="138.28" r="3.8"/><circle cx="734.60" cy="138.60" r="3.8"/><circle cx="737.80" cy="138.57" r="3.8"/><circle cx="741.00" cy="139.08" r="3.8"/><circle cx="744.20" cy="141.19" r="3.8"/><circle cx="747.40" cy="141.59" r="3.8"/><circle cx="750.60" cy="142.59" r="3.8"/><circle cx="753.80" cy="143.67" r="3.8"/><circle cx="757.00" cy="145.00" r="3.8"/><circle cx="760.20" cy="144.03" r="3.8"/><circle cx="763.40" cy="145.02" r="3.8"/><circle cx="766.60" cy="148.16" r="3.8"/><circle cx="769.80" cy="148.89" r="3.8"/><circle cx="773.00" cy="149.74" r="3.8"/><circle cx="776.20" cy="148.03" r="3.8"/><circle cx="779.40" cy="149.06" r="3.8"/><circle cx="782.60" cy="150.37" r="3.8"/><circle cx="785.80" cy="151.49" r="3.8"/><circle cx="789.00" cy="152.75" r="3.8"/><circle cx="792.20" cy="151.71" r="3.8"/><circle cx="795.40" cy="153.76" r="3.8"/><circle cx="798.60" cy="152.91" r="3.8"/><circle cx="801.80" cy="153.61" r="3.8"/><circle cx="805.00" cy="156.14" r="3.8"/><circle cx="808.20" cy="156.37" r="3.8"/><circle cx="811.40" cy="157.26" r="3.8"/><circle cx="814.60" cy="157.06" r="3.8"/><circle cx="817.80" cy="158.04" r="3.8"/><circle cx="821.00" cy="157.83" r="3.8"/><circle cx="824.20" cy="158.91" r="3.8"/><circle cx="827.40" cy="160.84" r="3.8"/><circle cx="830.60" cy="161.78" r="3.8"/><circle cx="833.80" cy="159.96" r="3.8"/><circle cx="837.00" cy="160.74" r="3.8"/><circle cx="840.20" cy="163.57" r="3.8"/><circle cx="843.40" cy="164.11" r="3.8"/><circle cx="846.60" cy="165.83" r="3.8"/><circle cx="849.80" cy="165.30" r="3.8"/><circle cx="853.00" cy="166.60" r="3.8"/><circle cx="856.20" cy="166.64" r="3.8"/><circle cx="859.40" cy="168.98" r="3.8"/><circle cx="862.60" cy="168.14" r="3.8"/><circle cx="865.80" cy="169.63" r="3.8"/><circle cx="869.00" cy="171.28" r="3.8"/><circle cx="872.20" cy="169.78" r="3.8"/><circle cx="875.40" cy="171.13" r="3.8"/><circle cx="878.60" cy="172.40" r="3.8"/><circle cx="881.80" cy="173.59" r="3.8"/><circle cx="885.00" cy="172.65" r="3.8"/><circle cx="888.20" cy="173.10" r="3.8"/><circle cx="891.40" cy="172.87" r="3.8"/><circle cx="894.60" cy="176.00" r="3.8"/><circle cx="897.80" cy="174.09" r="3.8"/><circle cx="901.00" cy="174.75" r="3.8"/><circle cx="904.20" cy="176.93" r="3.8"/><circle cx="907.40" cy="177.31" r="3.8"/><circle cx="910.60" cy="178.44" r="3.8"/><circle cx="913.80" cy="177.60" r="3.8"/><circle cx="917.00" cy="179.52" r="3.8"/><circle cx="920.20" cy="177.67" r="3.8"/><circle cx="923.40" cy="178.50" r="3.8"/><circle cx="926.60" cy="180.33" r="3.8"/><circle cx="929.80" cy="179.05" r="3.8"/><circle cx="933.00" cy="180.51" r="3.8"/><circle cx="936.20" cy="182.59" r="3.8"/><circle cx="938.90" cy="182.50" r="3.8"/></g><g fill="#fff" stroke="#a4a4a4" stroke-width="0.8"><rect x="574.85" y="254.65" width="7.90" height="7.90"/><rect x="579.75" y="248.75" width="7.90" height="7.90"/><rect x="584.65" y="246.62" width="7.90" height="7.90"/><rect x="587.25" y="245.71" width="7.90" height="7.90"/><rect x="589.85" y="245.18" width="7.90" height="7.90"/><rect x="592.45" y="245.15" width="7.90" height="7.90"/><rect x="595.05" y="245.40" width="7.90" height="7.90"/><rect x="597.65" y="244.63" width="7.90" height="7.90"/><rect x="600.25" y="244.02" width="7.90" height="7.90"/><rect x="602.85" y="244.48" width="7.90" height="7.90"/><rect x="605.45" y="243.55" width="7.90" height="7.90"/><rect x="608.05" y="243.32" width="7.90" height="7.90"/><rect x="610.65" y="242.66" width="7.90" height="7.90"/><rect x="613.25" y="241.95" width="7.90" height="7.90"/><rect x="615.85" y="240.62" width="7.90" height="7.90"/><rect x="618.45" y="240.40" width="7.90" height="7.90"/><rect x="621.05" y="238.93" width="7.90" height="7.90"/><rect x="623.65" y="238.18" width="7.90" height="7.90"/><rect x="626.25" y="237.53" width="7.90" height="7.90"/><rect x="628.85" y="237.60" width="7.90" height="7.90"/><rect x="631.45" y="236.88" width="7.90" height="7.90"/><rect x="634.05" y="235.31" width="7.90" height="7.90"/><rect x="636.65" y="234.83" width="7.90" height="7.90"/><rect x="639.25" y="234.46" width="7.90" height="7.90"/><rect x="641.85" y="234.08" width="7.90" height="7.90"/><rect x="644.45" y="233.75" width="7.90" height="7.90"/><rect x="647.05" y="233.35" width="7.90" height="7.90"/><rect x="649.65" y="232.69" width="7.90" height="7.90"/><rect x="652.25" y="232.81" width="7.90" height="7.90"/><rect x="654.85" y="232.73" width="7.90" height="7.90"/><rect x="657.45" y="231.97" width="7.90" height="7.90"/><rect x="660.05" y="231.98" width="7.90" height="7.90"/><rect x="662.65" y="231.19" width="7.90" height="7.90"/><rect x="665.25" y="230.25" width="7.90" height="7.90"/><rect x="667.85" y="230.67" width="7.90" height="7.90"/><rect x="670.45" y="230.44" width="7.90" height="7.90"/><rect x="673.05" y="229.20" width="7.90" height="7.90"/><rect x="675.65" y="228.43" width="7.90" height="7.90"/><rect x="678.25" y="228.73" width="7.90" height="7.90"/><rect x="680.85" y="228.37" width="7.90" height="7.90"/><rect x="683.45" y="228.02" width="7.90" height="7.90"/><rect x="686.05" y="228.19" width="7.90" height="7.90"/><rect x="688.65" y="227.36" width="7.90" height="7.90"/><rect x="691.25" y="227.19" width="7.90" height="7.90"/><rect x="693.85" y="225.77" width="7.90" height="7.90"/><rect x="696.45" y="226.06" width="7.90" height="7.90"/><rect x="699.05" y="226.02" width="7.90" height="7.90"/><rect x="701.65" y="224.61" width="7.90" height="7.90"/><rect x="704.25" y="224.15" width="7.90" height="7.90"/><rect x="706.85" y="224.61" width="7.90" height="7.90"/><rect x="709.45" y="224.39" width="7.90" height="7.90"/><rect x="712.05" y="222.79" width="7.90" height="7.90"/><rect x="714.65" y="223.11" width="7.90" height="7.90"/><rect x="717.25" y="221.97" width="7.90" height="7.90"/><rect x="719.85" y="222.37" width="7.90" height="7.90"/><rect x="722.45" y="221.97" width="7.90" height="7.90"/><rect x="725.05" y="221.14" width="7.90" height="7.90"/><rect x="727.65" y="220.84" width="7.90" height="7.90"/><rect x="730.25" y="221.33" width="7.90" height="7.90"/><rect x="732.85" y="220.73" width="7.90" height="7.90"/><rect x="735.45" y="220.80" width="7.90" height="7.90"/><rect x="738.05" y="220.01" width="7.90" height="7.90"/><rect x="740.65" y="219.54" width="7.90" height="7.90"/><rect x="743.25" y="219.93" width="7.90" height="7.90"/><rect x="745.85" y="219.02" width="7.90" height="7.90"/><rect x="748.45" y="218.28" width="7.90" height="7.90"/><rect x="751.05" y="217.85" width="7.90" height="7.90"/><rect x="753.65" y="217.61" width="7.90" height="7.90"/><rect x="756.25" y="217.12" width="7.90" height="7.90"/><rect x="758.85" y="217.07" width="7.90" height="7.90"/><rect x="761.45" y="216.03" width="7.90" height="7.90"/><rect x="764.05" y="216.28" width="7.90" height="7.90"/><rect x="766.65" y="215.72" width="7.90" height="7.90"/><rect x="769.25" y="215.65" width="7.90" height="7.90"/><rect x="771.85" y="215.25" width="7.90" height="7.90"/><rect x="774.45" y="214.96" width="7.90" height="7.90"/><rect x="777.05" y="214.75" width="7.90" height="7.90"/><rect x="779.65" y="214.59" width="7.90" height="7.90"/><rect x="782.25" y="213.90" width="7.90" height="7.90"/><rect x="784.85" y="213.48" width="7.90" height="7.90"/><rect x="787.45" y="213.49" width="7.90" height="7.90"/><rect x="790.05" y="213.37" width="7.90" height="7.90"/><rect x="792.65" y="212.58" width="7.90" height="7.90"/><rect x="795.25" y="212.32" width="7.90" height="7.90"/><rect x="797.85" y="211.54" width="7.90" height="7.90"/><rect x="800.45" y="211.97" width="7.90" height="7.90"/><rect x="803.05" y="211.92" width="7.90" height="7.90"/><rect x="805.65" y="210.66" width="7.90" height="7.90"/><rect x="808.25" y="209.97" width="7.90" height="7.90"/><rect x="810.85" y="209.62" width="7.90" height="7.90"/><rect x="813.45" y="209.53" width="7.90" height="7.90"/><rect x="816.05" y="208.99" width="7.90" height="7.90"/><rect x="818.65" y="209.62" width="7.90" height="7.90"/><rect x="821.25" y="208.02" width="7.90" height="7.90"/><rect x="823.85" y="208.05" width="7.90" height="7.90"/><rect x="826.45" y="207.46" width="7.90" height="7.90"/><rect x="829.05" y="207.88" width="7.90" height="7.90"/><rect x="831.65" y="207.74" width="7.90" height="7.90"/><rect x="834.25" y="206.59" width="7.90" height="7.90"/><rect x="836.85" y="206.05" width="7.90" height="7.90"/><rect x="839.45" y="206.24" width="7.90" height="7.90"/><rect x="842.05" y="206.04" width="7.90" height="7.90"/><rect x="844.65" y="206.12" width="7.90" height="7.90"/><rect x="847.25" y="204.53" width="7.90" height="7.90"/><rect x="849.85" y="204.26" width="7.90" height="7.90"/><rect x="852.45" y="203.99" width="7.90" height="7.90"/><rect x="855.05" y="203.49" width="7.90" height="7.90"/><rect x="857.65" y="202.79" width="7.90" height="7.90"/><rect x="860.25" y="202.74" width="7.90" height="7.90"/><rect x="862.85" y="201.84" width="7.90" height="7.90"/><rect x="865.45" y="200.59" width="7.90" height="7.90"/><rect x="868.05" y="200.27" width="7.90" height="7.90"/><rect x="870.65" y="200.15" width="7.90" height="7.90"/><rect x="873.25" y="199.75" width="7.90" height="7.90"/><rect x="875.85" y="200.31" width="7.90" height="7.90"/><rect x="878.45" y="199.44" width="7.90" height="7.90"/><rect x="881.05" y="199.51" width="7.90" height="7.90"/><rect x="883.65" y="199.64" width="7.90" height="7.90"/><rect x="886.25" y="198.91" width="7.90" height="7.90"/><rect x="888.85" y="198.34" width="7.90" height="7.90"/><rect x="891.45" y="198.95" width="7.90" height="7.90"/><rect x="894.05" y="198.72" width="7.90" height="7.90"/><rect x="896.65" y="197.65" width="7.90" height="7.90"/><rect x="899.25" y="197.67" width="7.90" height="7.90"/><rect x="901.85" y="197.98" width="7.90" height="7.90"/><rect x="904.45" y="197.05" width="7.90" height="7.90"/><rect x="907.05" y="196.43" width="7.90" height="7.90"/><rect x="909.65" y="195.93" width="7.90" height="7.90"/><rect x="912.25" y="196.94" width="7.90" height="7.90"/><rect x="914.85" y="196.48" width="7.90" height="7.90"/><rect x="917.45" y="195.64" width="7.90" height="7.90"/><rect x="920.05" y="195.59" width="7.90" height="7.90"/><rect x="922.65" y="195.32" width="7.90" height="7.90"/><rect x="925.25" y="194.83" width="7.90" height="7.90"/><rect x="927.85" y="195.84" width="7.90" height="7.90"/><rect x="930.45" y="195.37" width="7.90" height="7.90"/><rect x="933.05" y="194.78" width="7.90" height="7.90"/><rect x="934.95" y="195.15" width="7.90" height="7.90"/></g><polyline points="61.7,379.2 63.6,404.4 66.7,422.8" fill="none" stroke="#000" stroke-width="1.6"/><polyline points="60.9,592.6 63.8,585.3" fill="none" stroke="#000" stroke-width="2.0"/><g fill="#fff" stroke="#858585" stroke-width="0.9"><circle cx="59.70" cy="376.10" r="3.8"/><circle cx="61.70" cy="379.20" r="3.8"/><circle cx="63.60" cy="404.40" r="3.8"/><circle cx="67.30" cy="427.70" r="3.8"/><circle cx="71.60" cy="419.10" r="3.8"/><circle cx="74.00" cy="423.40" r="3.8"/><circle cx="77.70" cy="428.90" r="3.8"/><circle cx="81.40" cy="432.00" r="3.8"/><circle cx="84.40" cy="436.30" r="3.8"/><circle cx="87.50" cy="432.00" r="3.8"/><circle cx="89.40" cy="438.70" r="3.8"/><circle cx="94.30" cy="438.10" r="3.8"/><circle cx="96.70" cy="440.60" r="3.8"/><circle cx="99.20" cy="446.10" r="3.8"/><circle cx="102.00" cy="447.00" r="3.8"/><circle cx="105.30" cy="449.80" r="3.8"/><circle cx="108.00" cy="450.12" r="3.8"/><circle cx="111.20" cy="453.84" r="3.8"/><circle cx="114.40" cy="455.36" r="3.8"/><circle cx="117.60" cy="458.34" r="3.8"/><circle cx="120.80" cy="459.70" r="3.8"/><circle cx="124.00" cy="460.99" r="3.8"/><circle cx="127.20" cy="461.01" r="3.8"/><circle cx="130.40" cy="462.44" r="3.8"/><circle cx="133.60" cy="464.40" r="3.8"/><circle cx="136.80" cy="465.63" r="3.8"/><circle cx="140.00" cy="469.01" r="3.8"/><circle cx="143.20" cy="469.31" r="3.8"/><circle cx="146.40" cy="471.13" r="3.8"/><circle cx="149.60" cy="473.76" r="3.8"/><circle cx="152.80" cy="473.22" r="3.8"/><circle cx="156.00" cy="475.86" r="3.8"/><circle cx="159.20" cy="476.41" r="3.8"/><circle cx="162.40" cy="480.06" r="3.8"/><circle cx="165.60" cy="479.03" r="3.8"/><circle cx="168.80" cy="483.08" r="3.8"/><circle cx="172.00" cy="484.59" r="3.8"/><circle cx="175.20" cy="485.87" r="3.8"/><circle cx="178.40" cy="484.78" r="3.8"/><circle cx="181.60" cy="486.65" r="3.8"/><circle cx="184.80" cy="489.35" r="3.8"/><circle cx="188.00" cy="488.75" r="3.8"/><circle cx="191.20" cy="491.41" r="3.8"/><circle cx="194.40" cy="492.80" r="3.8"/><circle cx="197.60" cy="495.79" r="3.8"/><circle cx="200.80" cy="495.96" r="3.8"/><circle cx="204.00" cy="498.15" r="3.8"/><circle cx="207.20" cy="497.71" r="3.8"/><circle cx="210.40" cy="500.57" r="3.8"/><circle cx="213.60" cy="500.51" r="3.8"/><circle cx="216.80" cy="503.24" r="3.8"/><circle cx="220.00" cy="501.73" r="3.8"/><circle cx="223.20" cy="505.21" r="3.8"/><circle cx="226.40" cy="504.37" r="3.8"/><circle cx="229.60" cy="506.54" r="3.8"/><circle cx="232.80" cy="507.56" r="3.8"/><circle cx="236.00" cy="507.46" r="3.8"/><circle cx="239.20" cy="510.69" r="3.8"/><circle cx="242.40" cy="509.78" r="3.8"/><circle cx="245.60" cy="510.43" r="3.8"/><circle cx="248.80" cy="510.33" r="3.8"/><circle cx="252.00" cy="511.72" r="3.8"/><circle cx="255.20" cy="513.46" r="3.8"/><circle cx="258.40" cy="515.54" r="3.8"/><circle cx="261.60" cy="515.69" r="3.8"/><circle cx="264.80" cy="517.99" r="3.8"/><circle cx="268.00" cy="517.09" r="3.8"/><circle cx="271.20" cy="518.98" r="3.8"/><circle cx="274.40" cy="520.16" r="3.8"/><circle cx="277.60" cy="522.81" r="3.8"/><circle cx="280.80" cy="523.62" r="3.8"/><circle cx="284.00" cy="524.30" r="3.8"/><circle cx="287.20" cy="523.50" r="3.8"/><circle cx="290.40" cy="525.80" r="3.8"/><circle cx="293.60" cy="527.84" r="3.8"/><circle cx="296.80" cy="527.30" r="3.8"/><circle cx="300.00" cy="529.31" r="3.8"/><circle cx="303.20" cy="529.94" r="3.8"/><circle cx="306.40" cy="529.47" r="3.8"/><circle cx="309.60" cy="533.57" r="3.8"/><circle cx="312.80" cy="533.92" r="3.8"/><circle cx="316.00" cy="532.75" r="3.8"/><circle cx="319.20" cy="534.72" r="3.8"/><circle cx="322.40" cy="534.33" r="3.8"/><circle cx="325.60" cy="535.26" r="3.8"/><circle cx="328.80" cy="536.71" r="3.8"/><circle cx="332.00" cy="536.87" r="3.8"/><circle cx="335.20" cy="537.93" r="3.8"/><circle cx="338.40" cy="539.05" r="3.8"/><circle cx="341.60" cy="540.89" r="3.8"/><circle cx="344.80" cy="540.54" r="3.8"/><circle cx="348.00" cy="541.32" r="3.8"/><circle cx="351.20" cy="543.90" r="3.8"/><circle cx="354.40" cy="543.27" r="3.8"/><circle cx="357.60" cy="545.90" r="3.8"/><circle cx="360.80" cy="545.33" r="3.8"/><circle cx="364.00" cy="546.49" r="3.8"/><circle cx="367.20" cy="545.86" r="3.8"/><circle cx="370.40" cy="548.07" r="3.8"/><circle cx="373.60" cy="546.34" r="3.8"/><circle cx="376.80" cy="547.14" r="3.8"/><circle cx="380.00" cy="547.64" r="3.8"/><circle cx="383.20" cy="550.16" r="3.8"/><circle cx="386.40" cy="550.90" r="3.8"/><circle cx="389.60" cy="549.85" r="3.8"/><circle cx="392.80" cy="551.19" r="3.8"/><circle cx="396.00" cy="553.21" r="3.8"/><circle cx="399.20" cy="553.06" r="3.8"/><circle cx="402.40" cy="552.10" r="3.8"/><circle cx="405.60" cy="553.19" r="3.8"/><circle cx="408.80" cy="553.61" r="3.8"/><circle cx="412.00" cy="554.16" r="3.8"/><circle cx="415.20" cy="555.71" r="3.8"/><circle cx="418.40" cy="555.30" r="3.8"/><circle cx="421.60" cy="558.66" r="3.8"/><circle cx="423.50" cy="557.70" r="3.8"/></g><g fill="#fff" stroke="#a4a4a4" stroke-width="0.8"><rect x="56.95" y="588.65" width="7.90" height="7.90"/><rect x="59.85" y="581.35" width="7.90" height="7.90"/><rect x="62.75" y="573.05" width="7.90" height="7.90"/><rect x="68.65" y="573.05" width="7.90" height="7.90"/><rect x="72.05" y="571.43" width="7.90" height="7.90"/><rect x="74.55" y="570.54" width="7.90" height="7.90"/><rect x="77.05" y="569.81" width="7.90" height="7.90"/><rect x="79.55" y="569.11" width="7.90" height="7.90"/><rect x="82.05" y="568.31" width="7.90" height="7.90"/><rect x="84.55" y="566.72" width="7.90" height="7.90"/><rect x="87.05" y="565.22" width="7.90" height="7.90"/><rect x="89.55" y="563.75" width="7.90" height="7.90"/><rect x="92.05" y="561.50" width="7.90" height="7.90"/><rect x="94.55" y="560.51" width="7.90" height="7.90"/><rect x="97.05" y="559.87" width="7.90" height="7.90"/><rect x="99.55" y="559.31" width="7.90" height="7.90"/><rect x="102.05" y="558.00" width="7.90" height="7.90"/><rect x="104.55" y="556.79" width="7.90" height="7.90"/><rect x="107.05" y="555.94" width="7.90" height="7.90"/><rect x="109.55" y="554.26" width="7.90" height="7.90"/><rect x="112.05" y="554.02" width="7.90" height="7.90"/><rect x="114.55" y="553.30" width="7.90" height="7.90"/><rect x="117.05" y="553.15" width="7.90" height="7.90"/><rect x="119.55" y="551.63" width="7.90" height="7.90"/><rect x="122.05" y="551.42" width="7.90" height="7.90"/><rect x="124.55" y="550.95" width="7.90" height="7.90"/><rect x="127.05" y="550.40" width="7.90" height="7.90"/><rect x="129.55" y="549.46" width="7.90" height="7.90"/><rect x="132.05" y="548.12" width="7.90" height="7.90"/><rect x="134.55" y="546.46" width="7.90" height="7.90"/><rect x="137.05" y="546.69" width="7.90" height="7.90"/><rect x="139.55" y="546.17" width="7.90" height="7.90"/><rect x="142.05" y="544.86" width="7.90" height="7.90"/><rect x="144.55" y="543.82" width="7.90" height="7.90"/><rect x="147.05" y="543.37" width="7.90" height="7.90"/><rect x="149.55" y="542.11" width="7.90" height="7.90"/><rect x="152.05" y="542.34" width="7.90" height="7.90"/><rect x="154.55" y="542.09" width="7.90" height="7.90"/><rect x="157.05" y="540.56" width="7.90" height="7.90"/><rect x="159.55" y="540.00" width="7.90" height="7.90"/><rect x="162.05" y="539.31" width="7.90" height="7.90"/><rect x="164.55" y="537.42" width="7.90" height="7.90"/><rect x="167.05" y="537.82" width="7.90" height="7.90"/><rect x="169.55" y="536.57" width="7.90" height="7.90"/><rect x="172.05" y="535.14" width="7.90" height="7.90"/><rect x="174.55" y="534.22" width="7.90" height="7.90"/><rect x="177.05" y="533.72" width="7.90" height="7.90"/><rect x="179.55" y="533.49" width="7.90" height="7.90"/><rect x="182.05" y="532.91" width="7.90" height="7.90"/><rect x="184.55" y="531.56" width="7.90" height="7.90"/><rect x="187.05" y="531.87" width="7.90" height="7.90"/><rect x="189.55" y="530.34" width="7.90" height="7.90"/><rect x="192.05" y="529.88" width="7.90" height="7.90"/><rect x="194.55" y="528.72" width="7.90" height="7.90"/><rect x="197.05" y="529.24" width="7.90" height="7.90"/><rect x="199.55" y="527.04" width="7.90" height="7.90"/><rect x="202.05" y="527.40" width="7.90" height="7.90"/><rect x="204.55" y="525.95" width="7.90" height="7.90"/><rect x="207.05" y="525.33" width="7.90" height="7.90"/><rect x="209.55" y="524.70" width="7.90" height="7.90"/><rect x="212.05" y="523.59" width="7.90" height="7.90"/><rect x="214.55" y="523.98" width="7.90" height="7.90"/><rect x="217.05" y="523.36" width="7.90" height="7.90"/><rect x="219.55" y="522.33" width="7.90" height="7.90"/><rect x="222.05" y="521.24" width="7.90" height="7.90"/><rect x="224.55" y="519.73" width="7.90" height="7.90"/><rect x="227.05" y="520.11" width="7.90" height="7.90"/><rect x="229.55" y="518.51" width="7.90" height="7.90"/><rect x="232.05" y="518.75" width="7.90" height="7.90"/><rect x="234.55" y="516.96" width="7.90" height="7.90"/><rect x="237.05" y="516.75" width="7.90" height="7.90"/><rect x="239.55" y="516.42" width="7.90" height="7.90"/><rect x="242.05" y="514.65" width="7.90" height="7.90"/><rect x="244.55" y="514.36" width="7.90" height="7.90"/><rect x="247.05" y="512.47" width="7.90" height="7.90"/><rect x="249.55" y="511.52" width="7.90" height="7.90"/><rect x="252.05" y="511.16" width="7.90" height="7.90"/><rect x="254.55" y="511.86" width="7.90" height="7.90"/><rect x="257.05" y="511.19" width="7.90" height="7.90"/><rect x="259.55" y="510.14" width="7.90" height="7.90"/><rect x="262.05" y="508.89" width="7.90" height="7.90"/><rect x="264.55" y="508.72" width="7.90" height="7.90"/><rect x="267.05" y="508.08" width="7.90" height="7.90"/><rect x="269.55" y="506.75" width="7.90" height="7.90"/><rect x="272.05" y="506.34" width="7.90" height="7.90"/><rect x="274.55" y="505.92" width="7.90" height="7.90"/><rect x="277.05" y="503.91" width="7.90" height="7.90"/><rect x="279.55" y="503.45" width="7.90" height="7.90"/><rect x="282.05" y="503.13" width="7.90" height="7.90"/><rect x="284.55" y="501.86" width="7.90" height="7.90"/><rect x="287.05" y="501.62" width="7.90" height="7.90"/><rect x="289.55" y="501.32" width="7.90" height="7.90"/><rect x="292.05" y="500.09" width="7.90" height="7.90"/><rect x="294.55" y="500.05" width="7.90" height="7.90"/><rect x="297.05" y="499.04" width="7.90" height="7.90"/><rect x="299.55" y="498.89" width="7.90" height="7.90"/><rect x="302.05" y="497.86" width="7.90" height="7.90"/><rect x="304.55" y="497.70" width="7.90" height="7.90"/><rect x="307.05" y="496.09" width="7.90" height="7.90"/><rect x="309.55" y="496.45" width="7.90" height="7.90"/><rect x="312.05" y="494.85" width="7.90" height="7.90"/><rect x="314.55" y="495.40" width="7.90" height="7.90"/><rect x="317.05" y="494.07" width="7.90" height="7.90"/><rect x="319.55" y="493.10" width="7.90" height="7.90"/><rect x="322.05" y="492.25" width="7.90" height="7.90"/><rect x="324.55" y="491.84" width="7.90" height="7.90"/><rect x="327.05" y="491.19" width="7.90" height="7.90"/><rect x="329.55" y="490.55" width="7.90" height="7.90"/><rect x="332.05" y="489.78" width="7.90" height="7.90"/><rect x="334.55" y="488.65" width="7.90" height="7.90"/><rect x="337.05" y="488.98" width="7.90" height="7.90"/><rect x="339.55" y="488.24" width="7.90" height="7.90"/><rect x="342.05" y="487.78" width="7.90" height="7.90"/><rect x="344.55" y="486.58" width="7.90" height="7.90"/><rect x="347.05" y="486.09" width="7.90" height="7.90"/><rect x="349.55" y="485.64" width="7.90" height="7.90"/><rect x="352.05" y="485.53" width="7.90" height="7.90"/><rect x="354.55" y="484.27" width="7.90" height="7.90"/><rect x="357.05" y="483.61" width="7.90" height="7.90"/><rect x="359.55" y="482.82" width="7.90" height="7.90"/><rect x="362.05" y="482.97" width="7.90" height="7.90"/><rect x="364.55" y="481.42" width="7.90" height="7.90"/><rect x="367.05" y="480.39" width="7.90" height="7.90"/><rect x="369.55" y="480.85" width="7.90" height="7.90"/><rect x="372.05" y="480.58" width="7.90" height="7.90"/><rect x="374.55" y="479.82" width="7.90" height="7.90"/><rect x="377.05" y="479.12" width="7.90" height="7.90"/><rect x="379.55" y="478.87" width="7.90" height="7.90"/><rect x="382.05" y="477.67" width="7.90" height="7.90"/><rect x="384.55" y="477.63" width="7.90" height="7.90"/><rect x="387.05" y="476.28" width="7.90" height="7.90"/><rect x="389.55" y="475.86" width="7.90" height="7.90"/><rect x="392.05" y="475.86" width="7.90" height="7.90"/><rect x="394.55" y="475.44" width="7.90" height="7.90"/><rect x="397.05" y="474.71" width="7.90" height="7.90"/><rect x="399.55" y="473.57" width="7.90" height="7.90"/><rect x="402.05" y="474.01" width="7.90" height="7.90"/><rect x="404.55" y="473.15" width="7.90" height="7.90"/><rect x="407.05" y="472.10" width="7.90" height="7.90"/><rect x="409.55" y="471.55" width="7.90" height="7.90"/><rect x="412.05" y="471.02" width="7.90" height="7.90"/><rect x="414.55" y="470.08" width="7.90" height="7.90"/><rect x="417.05" y="469.14" width="7.90" height="7.90"/><rect x="419.55" y="469.81" width="7.90" height="7.90"/></g><text transform="translate(18.30,140.70) rotate(-90)" font-size="15.5" text-anchor="middle">Tolene concentration /μmolL<tspan font-size="9.5" dy="-7.5">-1</tspan></text><text transform="translate(534.60,139.30) rotate(-90)" font-size="15.5" text-anchor="middle">Tolene concentration /μmolL<tspan font-size="9.5" dy="-7.5">-1</tspan></text><text transform="translate(17.30,466.70) rotate(-90)" font-size="15.5" text-anchor="middle">Tolene concentration /μmolL<tspan font-size="9.5" dy="-7.5">-1</tspan></text><text transform="translate(494.00,139.90) rotate(-90)" font-size="15.3" text-anchor="middle">Concentration of CO<tspan font-size="11" dy="7.5">2</tspan><tspan dy="-7.5"> and CO / μmolL</tspan><tspan font-size="9.5" dy="-7.5">-1</tspan></text><text transform="translate(1009.30,139.90) rotate(-90)" font-size="15.3" text-anchor="middle">Concentration of CO<tspan font-size="11" dy="7.5">2</tspan><tspan dy="-7.5"> and CO / μmolL</tspan><tspan font-size="9.5" dy="-7.5">-1</tspan></text><text transform="translate(492.90,466.70) rotate(-90)" font-size="15.3" text-anchor="middle">Concentration of CO<tspan font-size="11" dy="7.5">2</tspan><tspan dy="-7.5"> and CO / μmolL</tspan><tspan font-size="9.5" dy="-7.5">-1</tspan></text><text x="255.90" y="307.60" font-size="16" text-anchor="middle" >Time/min</text><text x="771.20" y="314.40" font-size="16" text-anchor="middle" >Time/min</text><text x="255.30" y="641.10" font-size="16" text-anchor="middle" >Time/min</text><text x="803.30" y="645.00" font-size="16" text-anchor="middle" >Time/min</text><text x="76.50" y="37.70" font-size="18">(a)</text><text x="309.50" y="42.90" font-size="18">TiO<tspan font-size="12" dy="8">2</tspan><tspan dy="-8">, 300 K</tspan></text><text x="92.60" y="96.80" font-size="18">toluene</text><text x="340.20" y="143.40" font-size="18">CO<tspan font-size="12" dy="8">2</tspan></text><text x="185.00" y="248.50" font-size="18">CO</text><text x="592.40" y="37.50" font-size="18">(b)</text><text x="825.90" y="42.00" font-size="18">TiO<tspan font-size="12" dy="8">2</tspan><tspan dy="-8">, 353 K</tspan></text><text x="633.20" y="85.20" font-size="18">toluene</text><text x="796.20" y="131.30" font-size="18">CO<tspan font-size="12" dy="8">2</tspan></text><text x="798.30" y="250.00" font-size="18">CO</text><text x="75.30" y="364.80" font-size="18">(c)</text><text x="295.90" y="369.10" font-size="18">Pt/TiO<tspan font-size="12" dy="8">2</tspan><tspan dy="-8">, 353 K</tspan></text><text x="92.60" y="417.70" font-size="18">toluene</text><text x="312.30" y="467.20" font-size="18">CO<tspan font-size="12" dy="8">2</tspan></text><rect x="618.3" y="343.5" width="369.10" height="253.30" fill="none" stroke="#b8b8b8" stroke-width="1"/><path d="M618.3 533.47h7 M618.3 470.15h7 M618.3 406.82h7 M679.82 596.8v-7 M741.33 596.8v-7 M802.85 596.8v-7 M864.37 596.8v-7 M925.88 596.8v-7" stroke="#b8b8b8" stroke-width="1" fill="none"/><text x="608.30" y="599.30" font-size="15.5" text-anchor="end" >0</text><text x="608.30" y="535.97" font-size="15.5" text-anchor="end" >200</text><text x="608.30" y="472.65" font-size="15.5" text-anchor="end" >400</text><text x="608.30" y="409.32" font-size="15.5" text-anchor="end" >600</text><text x="608.30" y="346.00" font-size="15.5" text-anchor="end" >800</text><text x="618.30" y="615.80" font-size="15.5" text-anchor="middle" >0</text><text x="679.82" y="615.80" font-size="15.5" text-anchor="middle" >60</text><text x="741.33" y="615.80" font-size="15.5" text-anchor="middle" >120</text><text x="802.85" y="615.80" font-size="15.5" text-anchor="middle" >180</text><text x="864.37" y="615.80" font-size="15.5" text-anchor="middle" >240</text><text x="925.88" y="615.80" font-size="15.5" text-anchor="middle" >300</text><text x="987.40" y="615.80" font-size="15.5" text-anchor="middle" >360</text><text transform="translate(538.60,472.30) rotate(-90)" font-size="15.5" text-anchor="middle">The amount of carbonaceous compounds</text><text transform="translate(564.60,471.40) rotate(-90)" font-size="15.5" text-anchor="middle">/ μmol g-cat<tspan font-size="9.5" dy="-7.5">-1</tspan></text><text x="632.30" y="367.60" font-size="18">(d)</text><text x="732.20" y="377.70" font-size="18">TiO<tspan font-size="12" dy="8">2</tspan><tspan dy="-8">, 353 K</tspan></text><text x="855.30" y="515.80" font-size="18">TiO<tspan font-size="12" dy="8">2</tspan><tspan dy="-8">, 300 K</tspan></text><text x="708.30" y="541.40" font-size="18">TiO<tspan font-size="12" dy="8">2</tspan><tspan dy="-8">, 353 K</tspan></text><line x1="785.9" y1="519.8" x2="833.5" y2="466" stroke="#555" stroke-width="0.7"/><g fill="#fff" stroke="#858585" stroke-width="0.8"><rect x="619.33" y="586.05" width="8.20" height="8.20"/><rect x="620.04" y="576.55" width="8.20" height="8.20"/><rect x="623.12" y="492.33" width="8.20" height="8.20"/><rect x="627.25" y="513.26" width="8.20" height="8.20"/><rect x="629.04" y="514.94" width="8.20" height="8.20"/><rect x="632.32" y="524.58" width="8.20" height="8.20"/><rect x="634.61" y="530.31" width="8.20" height="8.20"/><rect x="637.81" y="529.97" width="8.20" height="8.20"/><rect x="639.23" y="526.89" width="8.20" height="8.20"/><rect x="642.56" y="521.83" width="8.20" height="8.20"/><rect x="644.75" y="520.13" width="8.20" height="8.20"/><rect x="647.51" y="518.08" width="8.20" height="8.20"/><rect x="651.13" y="518.12" width="8.20" height="8.20"/><rect x="653.67" y="512.47" width="8.20" height="8.20"/><rect x="655.96" y="514.93" width="8.20" height="8.20"/><rect x="657.77" y="518.13" width="8.20" height="8.20"/><rect x="660.85" y="510.01" width="8.20" height="8.20"/><rect x="663.82" y="514.58" width="8.20" height="8.20"/><rect x="666.45" y="499.68" width="8.20" height="8.20"/><rect x="668.69" y="499.54" width="8.20" height="8.20"/><rect x="672.46" y="507.85" width="8.20" height="8.20"/><rect x="674.00" y="500.90" width="8.20" height="8.20"/><rect x="677.11" y="495.29" width="8.20" height="8.20"/><rect x="679.29" y="505.30" width="8.20" height="8.20"/><rect x="682.01" y="488.85" width="8.20" height="8.20"/><rect x="685.36" y="498.84" width="8.20" height="8.20"/><rect x="687.09" y="503.27" width="8.20" height="8.20"/><rect x="689.85" y="496.70" width="8.20" height="8.20"/><rect x="693.79" y="494.64" width="8.20" height="8.20"/><rect x="696.40" y="496.79" width="8.20" height="8.20"/><rect x="698.79" y="494.60" width="8.20" height="8.20"/><rect x="701.84" y="494.26" width="8.20" height="8.20"/><rect x="703.37" y="495.79" width="8.20" height="8.20"/><rect x="706.17" y="495.05" width="8.20" height="8.20"/><rect x="708.63" y="493.70" width="8.20" height="8.20"/><rect x="711.38" y="493.03" width="8.20" height="8.20"/><rect x="714.27" y="490.63" width="8.20" height="8.20"/><rect x="717.40" y="498.88" width="8.20" height="8.20"/><rect x="719.37" y="492.17" width="8.20" height="8.20"/><rect x="722.15" y="499.70" width="8.20" height="8.20"/><rect x="724.78" y="492.94" width="8.20" height="8.20"/><rect x="728.02" y="503.38" width="8.20" height="8.20"/><rect x="730.37" y="500.38" width="8.20" height="8.20"/><rect x="733.18" y="493.93" width="8.20" height="8.20"/><rect x="735.96" y="494.14" width="8.20" height="8.20"/><rect x="738.12" y="493.70" width="8.20" height="8.20"/><rect x="740.47" y="499.26" width="8.20" height="8.20"/><rect x="743.45" y="492.17" width="8.20" height="8.20"/><rect x="746.11" y="488.31" width="8.20" height="8.20"/><rect x="749.20" y="492.47" width="8.20" height="8.20"/><rect x="752.57" y="495.19" width="8.20" height="8.20"/><rect x="753.71" y="482.80" width="8.20" height="8.20"/><rect x="756.94" y="489.44" width="8.20" height="8.20"/><rect x="760.48" y="485.73" width="8.20" height="8.20"/><rect x="762.54" y="487.65" width="8.20" height="8.20"/><rect x="765.35" y="484.27" width="8.20" height="8.20"/><rect x="768.24" y="491.07" width="8.20" height="8.20"/><rect x="770.48" y="480.44" width="8.20" height="8.20"/><rect x="773.41" y="486.42" width="8.20" height="8.20"/><rect x="775.82" y="488.25" width="8.20" height="8.20"/><rect x="778.90" y="485.21" width="8.20" height="8.20"/><rect x="780.58" y="483.50" width="8.20" height="8.20"/><rect x="783.69" y="483.46" width="8.20" height="8.20"/><rect x="786.88" y="485.83" width="8.20" height="8.20"/><rect x="788.69" y="477.59" width="8.20" height="8.20"/><rect x="791.76" y="483.24" width="8.20" height="8.20"/><rect x="794.44" y="485.83" width="8.20" height="8.20"/><rect x="796.37" y="476.00" width="8.20" height="8.20"/><rect x="799.89" y="476.48" width="8.20" height="8.20"/><rect x="803.04" y="479.55" width="8.20" height="8.20"/><rect x="804.34" y="479.65" width="8.20" height="8.20"/><rect x="807.77" y="473.68" width="8.20" height="8.20"/><rect x="810.06" y="477.68" width="8.20" height="8.20"/><rect x="813.58" y="482.39" width="8.20" height="8.20"/><rect x="815.88" y="478.53" width="8.20" height="8.20"/><rect x="818.50" y="475.45" width="8.20" height="8.20"/><rect x="820.54" y="471.91" width="8.20" height="8.20"/><rect x="823.46" y="476.71" width="8.20" height="8.20"/><rect x="826.63" y="474.27" width="8.20" height="8.20"/><rect x="829.14" y="472.78" width="8.20" height="8.20"/><rect x="831.11" y="477.43" width="8.20" height="8.20"/><rect x="834.94" y="473.86" width="8.20" height="8.20"/><rect x="836.55" y="474.63" width="8.20" height="8.20"/><rect x="840.07" y="474.95" width="8.20" height="8.20"/><rect x="841.72" y="466.53" width="8.20" height="8.20"/><rect x="844.95" y="469.90" width="8.20" height="8.20"/><rect x="848.51" y="472.96" width="8.20" height="8.20"/><rect x="849.69" y="465.14" width="8.20" height="8.20"/><rect x="853.87" y="470.97" width="8.20" height="8.20"/><rect x="855.19" y="464.94" width="8.20" height="8.20"/><rect x="857.68" y="471.67" width="8.20" height="8.20"/><rect x="860.67" y="471.32" width="8.20" height="8.20"/><rect x="863.58" y="468.45" width="8.20" height="8.20"/><rect x="866.10" y="468.21" width="8.20" height="8.20"/><rect x="868.34" y="469.76" width="8.20" height="8.20"/><rect x="872.54" y="469.14" width="8.20" height="8.20"/><rect x="873.98" y="462.70" width="8.20" height="8.20"/><rect x="876.69" y="465.36" width="8.20" height="8.20"/><rect x="879.69" y="466.48" width="8.20" height="8.20"/><rect x="883.10" y="464.80" width="8.20" height="8.20"/><rect x="885.85" y="468.93" width="8.20" height="8.20"/><rect x="887.92" y="469.84" width="8.20" height="8.20"/><rect x="890.65" y="467.23" width="8.20" height="8.20"/><rect x="892.37" y="463.36" width="8.20" height="8.20"/><rect x="896.32" y="470.51" width="8.20" height="8.20"/><rect x="898.55" y="468.87" width="8.20" height="8.20"/><rect x="900.90" y="463.29" width="8.20" height="8.20"/><rect x="904.29" y="461.19" width="8.20" height="8.20"/><rect x="905.95" y="469.34" width="8.20" height="8.20"/><rect x="908.83" y="466.82" width="8.20" height="8.20"/><rect x="911.20" y="468.77" width="8.20" height="8.20"/><rect x="913.93" y="465.33" width="8.20" height="8.20"/><rect x="916.76" y="467.80" width="8.20" height="8.20"/><rect x="919.65" y="468.79" width="8.20" height="8.20"/><rect x="922.98" y="463.04" width="8.20" height="8.20"/><rect x="924.59" y="461.87" width="8.20" height="8.20"/><rect x="928.04" y="463.42" width="8.20" height="8.20"/><rect x="930.18" y="462.32" width="8.20" height="8.20"/><rect x="932.55" y="462.95" width="8.20" height="8.20"/><rect x="935.35" y="456.16" width="8.20" height="8.20"/><rect x="938.74" y="466.87" width="8.20" height="8.20"/><rect x="940.69" y="460.69" width="8.20" height="8.20"/><rect x="944.42" y="463.44" width="8.20" height="8.20"/><rect x="946.17" y="462.47" width="8.20" height="8.20"/><rect x="949.71" y="456.51" width="8.20" height="8.20"/><rect x="950.95" y="460.47" width="8.20" height="8.20"/><rect x="953.72" y="464.95" width="8.20" height="8.20"/><rect x="957.66" y="459.36" width="8.20" height="8.20"/><rect x="959.75" y="467.44" width="8.20" height="8.20"/><rect x="961.67" y="460.51" width="8.20" height="8.20"/><rect x="964.32" y="464.26" width="8.20" height="8.20"/><rect x="967.16" y="462.23" width="8.20" height="8.20"/><rect x="970.08" y="462.69" width="8.20" height="8.20"/><rect x="972.93" y="462.62" width="8.20" height="8.20"/></g><g fill="#fff" stroke="#858585" stroke-width="0.9"><circle cx="619.74" cy="557.86" r="4.3"/><circle cx="625.81" cy="520.34" r="4.3"/><circle cx="627.76" cy="521.73" r="4.3"/><circle cx="630.24" cy="518.19" r="4.3"/><circle cx="633.00" cy="520.91" r="4.3"/><circle cx="635.99" cy="525.62" r="4.3"/><circle cx="638.62" cy="520.44" r="4.3"/><circle cx="641.14" cy="515.46" r="4.3"/><circle cx="643.89" cy="515.62" r="4.3"/><circle cx="646.04" cy="514.47" r="4.3"/><circle cx="649.68" cy="506.39" r="4.3"/><circle cx="652.90" cy="507.52" r="4.3"/><circle cx="654.48" cy="504.57" r="4.3"/><circle cx="657.01" cy="499.85" r="4.3"/><circle cx="660.43" cy="500.40" r="4.3"/><circle cx="663.39" cy="495.81" r="4.3"/><circle cx="665.04" cy="500.09" r="4.3"/><circle cx="668.01" cy="498.32" r="4.3"/><circle cx="670.62" cy="500.59" r="4.3"/><circle cx="673.19" cy="497.23" r="4.3"/><circle cx="676.12" cy="495.14" r="4.3"/><circle cx="678.64" cy="496.76" r="4.3"/><circle cx="681.42" cy="496.70" r="4.3"/><circle cx="683.71" cy="497.86" r="4.3"/><circle cx="686.14" cy="491.28" r="4.3"/><circle cx="688.90" cy="495.24" r="4.3"/><circle cx="692.25" cy="490.53" r="4.3"/><circle cx="695.11" cy="487.20" r="4.3"/><circle cx="696.69" cy="488.04" r="4.3"/><circle cx="699.42" cy="491.64" r="4.3"/><circle cx="702.63" cy="492.45" r="4.3"/><circle cx="705.59" cy="488.74" r="4.3"/><circle cx="708.06" cy="484.92" r="4.3"/><circle cx="710.02" cy="486.77" r="4.3"/><circle cx="713.20" cy="486.36" r="4.3"/><circle cx="715.73" cy="479.33" r="4.3"/><circle cx="719.05" cy="482.18" r="4.3"/><circle cx="721.63" cy="482.93" r="4.3"/><circle cx="724.84" cy="475.73" r="4.3"/><circle cx="727.48" cy="480.49" r="4.3"/><circle cx="729.87" cy="473.04" r="4.3"/><circle cx="731.96" cy="471.90" r="4.3"/><circle cx="734.64" cy="473.46" r="4.3"/><circle cx="738.04" cy="479.75" r="4.3"/><circle cx="739.91" cy="473.92" r="4.3"/><circle cx="742.19" cy="472.04" r="4.3"/><circle cx="745.45" cy="470.79" r="4.3"/><circle cx="748.86" cy="473.94" r="4.3"/><circle cx="750.21" cy="471.12" r="4.3"/><circle cx="753.72" cy="471.66" r="4.3"/><circle cx="755.67" cy="472.70" r="4.3"/><circle cx="758.59" cy="467.91" r="4.3"/><circle cx="761.01" cy="462.49" r="4.3"/><circle cx="764.17" cy="466.68" r="4.3"/><circle cx="766.96" cy="460.25" r="4.3"/><circle cx="770.18" cy="462.97" r="4.3"/><circle cx="771.83" cy="460.77" r="4.3"/><circle cx="774.46" cy="469.42" r="4.3"/><circle cx="777.77" cy="461.71" r="4.3"/><circle cx="780.83" cy="458.18" r="4.3"/><circle cx="783.27" cy="464.59" r="4.3"/><circle cx="785.41" cy="465.37" r="4.3"/><circle cx="788.19" cy="459.24" r="4.3"/><circle cx="791.15" cy="462.40" r="4.3"/><circle cx="793.47" cy="460.18" r="4.3"/><circle cx="795.80" cy="461.91" r="4.3"/><circle cx="798.23" cy="457.34" r="4.3"/><circle cx="800.72" cy="458.20" r="4.3"/><circle cx="803.39" cy="461.54" r="4.3"/><circle cx="806.13" cy="459.72" r="4.3"/><circle cx="809.33" cy="456.42" r="4.3"/><circle cx="811.54" cy="451.47" r="4.3"/><circle cx="815.33" cy="455.01" r="4.3"/><circle cx="817.02" cy="452.76" r="4.3"/><circle cx="820.09" cy="453.69" r="4.3"/><circle cx="823.09" cy="448.95" r="4.3"/><circle cx="825.01" cy="450.65" r="4.3"/><circle cx="827.81" cy="447.71" r="4.3"/><circle cx="831.15" cy="453.15" r="4.3"/><circle cx="833.51" cy="444.25" r="4.3"/><circle cx="835.94" cy="447.49" r="4.3"/><circle cx="839.26" cy="443.80" r="4.3"/><circle cx="841.88" cy="449.72" r="4.3"/><circle cx="844.34" cy="449.13" r="4.3"/><circle cx="846.30" cy="446.45" r="4.3"/><circle cx="849.53" cy="446.03" r="4.3"/><circle cx="852.77" cy="446.53" r="4.3"/><circle cx="855.03" cy="443.83" r="4.3"/><circle cx="857.27" cy="441.27" r="4.3"/><circle cx="860.75" cy="440.51" r="4.3"/><circle cx="863.51" cy="447.18" r="4.3"/><circle cx="864.78" cy="443.36" r="4.3"/><circle cx="867.33" cy="440.15" r="4.3"/><circle cx="871.51" cy="445.84" r="4.3"/><circle cx="872.78" cy="439.95" r="4.3"/><circle cx="876.12" cy="440.61" r="4.3"/><circle cx="878.69" cy="437.68" r="4.3"/><circle cx="881.87" cy="441.23" r="4.3"/><circle cx="884.59" cy="438.24" r="4.3"/><circle cx="886.91" cy="441.69" r="4.3"/><circle cx="889.81" cy="441.29" r="4.3"/><circle cx="892.36" cy="437.29" r="4.3"/><circle cx="894.79" cy="437.77" r="4.3"/><circle cx="896.86" cy="435.04" r="4.3"/><circle cx="899.42" cy="438.52" r="4.3"/><circle cx="902.69" cy="434.83" r="4.3"/><circle cx="904.77" cy="435.01" r="4.3"/><circle cx="908.15" cy="435.34" r="4.3"/><circle cx="910.14" cy="432.44" r="4.3"/><circle cx="912.94" cy="431.91" r="4.3"/><circle cx="916.01" cy="431.55" r="4.3"/><circle cx="917.99" cy="434.63" r="4.3"/><circle cx="920.68" cy="434.52" r="4.3"/><circle cx="923.36" cy="430.24" r="4.3"/><circle cx="926.20" cy="420.65" r="4.3"/><circle cx="928.89" cy="432.28" r="4.3"/><circle cx="932.62" cy="427.35" r="4.3"/><circle cx="935.19" cy="430.34" r="4.3"/><circle cx="937.20" cy="433.16" r="4.3"/><circle cx="940.28" cy="430.18" r="4.3"/><circle cx="942.89" cy="426.83" r="4.3"/><circle cx="945.95" cy="434.93" r="4.3"/><circle cx="948.82" cy="421.47" r="4.3"/><circle cx="951.06" cy="428.98" r="4.3"/><circle cx="952.84" cy="428.49" r="4.3"/><circle cx="955.42" cy="426.61" r="4.3"/><circle cx="958.01" cy="422.60" r="4.3"/><circle cx="961.05" cy="429.85" r="4.3"/><circle cx="964.05" cy="427.60" r="4.3"/><circle cx="967.42" cy="425.26" r="4.3"/><circle cx="968.57" cy="419.08" r="4.3"/><circle cx="972.49" cy="423.55" r="4.3"/><circle cx="975.06" cy="419.60" r="4.3"/><circle cx="977.88" cy="427.50" r="4.3"/><circle cx="980.45" cy="425.40" r="4.3"/><circle cx="983.40" cy="423.64" r="4.3"/><circle cx="985.19" cy="422.93" r="4.3"/></g><g fill="#000" stroke="#000" stroke-width="0.4"><circle cx="618.30" cy="596.80" r="4.3"/><circle cx="620.25" cy="589.83" r="4.3"/><circle cx="622.30" cy="536.01" r="4.3"/><circle cx="626.71" cy="487.88" r="4.3"/><circle cx="628.14" cy="503.71" r="4.3"/><circle cx="630.23" cy="499.40" r="4.3"/><circle cx="630.35" cy="497.70" r="4.3"/><circle cx="632.48" cy="496.45" r="4.3"/><circle cx="633.98" cy="491.29" r="4.3"/><circle cx="635.51" cy="486.67" r="4.3"/><circle cx="637.49" cy="487.29" r="4.3"/><circle cx="639.45" cy="489.27" r="4.3"/><circle cx="640.06" cy="487.87" r="4.3"/><circle cx="642.27" cy="485.30" r="4.3"/><circle cx="642.96" cy="482.40" r="4.3"/><circle cx="645.25" cy="477.98" r="4.3"/><circle cx="645.98" cy="483.12" r="4.3"/><circle cx="647.79" cy="482.36" r="4.3"/><circle cx="649.46" cy="484.33" r="4.3"/><circle cx="650.95" cy="479.88" r="4.3"/><circle cx="652.36" cy="470.94" r="4.3"/><circle cx="653.71" cy="476.18" r="4.3"/><circle cx="656.33" cy="472.99" r="4.3"/><circle cx="656.63" cy="477.66" r="4.3"/><circle cx="659.58" cy="462.35" r="4.3"/><circle cx="659.89" cy="471.49" r="4.3"/><circle cx="661.73" cy="465.21" r="4.3"/><circle cx="663.05" cy="461.66" r="4.3"/><circle cx="665.23" cy="464.79" r="4.3"/><circle cx="665.98" cy="460.50" r="4.3"/><circle cx="667.80" cy="462.71" r="4.3"/><circle cx="669.78" cy="460.13" r="4.3"/><circle cx="670.91" cy="458.25" r="4.3"/><circle cx="672.83" cy="457.28" r="4.3"/><circle cx="674.80" cy="461.06" r="4.3"/><circle cx="675.72" cy="453.64" r="4.3"/><circle cx="677.36" cy="461.14" r="4.3"/><circle cx="679.10" cy="459.64" r="4.3"/><circle cx="680.25" cy="452.87" r="4.3"/><circle cx="681.68" cy="451.04" r="4.3"/><circle cx="682.97" cy="450.06" r="4.3"/><circle cx="684.97" cy="450.51" r="4.3"/><circle cx="685.73" cy="449.79" r="4.3"/><circle cx="688.17" cy="448.37" r="4.3"/><circle cx="689.71" cy="451.32" r="4.3"/><circle cx="691.04" cy="447.46" r="4.3"/><circle cx="693.42" cy="446.88" r="4.3"/><circle cx="694.55" cy="443.47" r="4.3"/><circle cx="696.49" cy="440.13" r="4.3"/><circle cx="696.65" cy="448.61" r="4.3"/><circle cx="699.57" cy="441.60" r="4.3"/><circle cx="700.87" cy="443.37" r="4.3"/><circle cx="702.10" cy="448.56" r="4.3"/><circle cx="703.87" cy="440.04" r="4.3"/><circle cx="704.95" cy="443.20" r="4.3"/><circle cx="707.07" cy="441.53" r="4.3"/><circle cx="708.35" cy="441.13" r="4.3"/><circle cx="709.48" cy="446.25" r="4.3"/><circle cx="711.15" cy="440.56" r="4.3"/><circle cx="712.27" cy="436.34" r="4.3"/><circle cx="714.39" cy="440.59" r="4.3"/><circle cx="716.16" cy="437.60" r="4.3"/><circle cx="717.22" cy="434.93" r="4.3"/><circle cx="719.35" cy="439.44" r="4.3"/><circle cx="720.75" cy="425.64" r="4.3"/><circle cx="722.33" cy="429.34" r="4.3"/><circle cx="722.83" cy="429.56" r="4.3"/><circle cx="724.19" cy="430.75" r="4.3"/><circle cx="726.22" cy="432.80" r="4.3"/><circle cx="727.39" cy="423.03" r="4.3"/><circle cx="729.03" cy="421.86" r="4.3"/><circle cx="731.27" cy="429.96" r="4.3"/><circle cx="733.26" cy="433.69" r="4.3"/><circle cx="733.69" cy="428.20" r="4.3"/><circle cx="735.90" cy="426.77" r="4.3"/><circle cx="736.75" cy="418.30" r="4.3"/><circle cx="739.04" cy="420.55" r="4.3"/><circle cx="740.05" cy="420.70" r="4.3"/><circle cx="741.55" cy="418.19" r="4.3"/><circle cx="743.55" cy="417.63" r="4.3"/><circle cx="745.23" cy="419.85" r="4.3"/><circle cx="746.77" cy="420.24" r="4.3"/><circle cx="747.94" cy="419.36" r="4.3"/><circle cx="750.24" cy="419.03" r="4.3"/><circle cx="751.25" cy="416.22" r="4.3"/><circle cx="753.40" cy="419.04" r="4.3"/><circle cx="754.46" cy="416.81" r="4.3"/><circle cx="755.38" cy="413.72" r="4.3"/><circle cx="757.08" cy="419.40" r="4.3"/><circle cx="758.64" cy="420.03" r="4.3"/><circle cx="760.81" cy="412.91" r="4.3"/><circle cx="761.85" cy="417.60" r="4.3"/><circle cx="764.08" cy="412.36" r="4.3"/><circle cx="764.49" cy="419.17" r="4.3"/><circle cx="766.58" cy="413.14" r="4.3"/><circle cx="767.65" cy="420.79" r="4.3"/><circle cx="770.10" cy="412.34" r="4.3"/><circle cx="771.76" cy="410.46" r="4.3"/><circle cx="772.42" cy="413.28" r="4.3"/><circle cx="774.06" cy="408.75" r="4.3"/><circle cx="774.98" cy="410.63" r="4.3"/><circle cx="777.12" cy="414.03" r="4.3"/><circle cx="779.48" cy="411.11" r="4.3"/><circle cx="780.57" cy="417.06" r="4.3"/><circle cx="781.42" cy="410.36" r="4.3"/><circle cx="784.00" cy="412.48" r="4.3"/><circle cx="784.51" cy="408.60" r="4.3"/><circle cx="786.96" cy="412.39" r="4.3"/><circle cx="788.54" cy="407.15" r="4.3"/><circle cx="788.88" cy="407.93" r="4.3"/><circle cx="791.69" cy="412.34" r="4.3"/><circle cx="792.40" cy="410.84" r="4.3"/><circle cx="794.49" cy="407.22" r="4.3"/><circle cx="796.31" cy="405.55" r="4.3"/><circle cx="797.93" cy="412.33" r="4.3"/><circle cx="798.70" cy="407.90" r="4.3"/><circle cx="800.07" cy="403.99" r="4.3"/><circle cx="802.10" cy="407.27" r="4.3"/><circle cx="803.53" cy="415.37" r="4.3"/><circle cx="805.69" cy="404.67" r="4.3"/><circle cx="806.27" cy="408.46" r="4.3"/><circle cx="808.30" cy="401.83" r="4.3"/><circle cx="810.31" cy="409.24" r="4.3"/><circle cx="810.89" cy="407.23" r="4.3"/><circle cx="812.84" cy="407.57" r="4.3"/><circle cx="813.66" cy="415.22" r="4.3"/><circle cx="815.46" cy="407.34" r="4.3"/><circle cx="817.59" cy="407.71" r="4.3"/><circle cx="818.08" cy="407.36" r="4.3"/><circle cx="820.48" cy="408.98" r="4.3"/><circle cx="822.20" cy="404.59" r="4.3"/><circle cx="823.72" cy="410.62" r="4.3"/><circle cx="825.34" cy="407.18" r="4.3"/><circle cx="825.66" cy="406.89" r="4.3"/><circle cx="828.54" cy="410.82" r="4.3"/><circle cx="828.75" cy="401.71" r="4.3"/><circle cx="830.81" cy="400.01" r="4.3"/><circle cx="831.96" cy="402.95" r="4.3"/><circle cx="834.58" cy="402.49" r="4.3"/><circle cx="835.06" cy="407.34" r="4.3"/><circle cx="837.31" cy="404.46" r="4.3"/><circle cx="838.75" cy="404.40" r="4.3"/><circle cx="839.94" cy="403.49" r="4.3"/><circle cx="841.67" cy="400.28" r="4.3"/><circle cx="842.64" cy="403.11" r="4.3"/><circle cx="844.98" cy="405.58" r="4.3"/><circle cx="846.36" cy="402.61" r="4.3"/><circle cx="848.52" cy="400.11" r="4.3"/><circle cx="848.95" cy="405.00" r="4.3"/><circle cx="850.89" cy="400.05" r="4.3"/><circle cx="852.76" cy="406.12" r="4.3"/><circle cx="853.98" cy="393.88" r="4.3"/><circle cx="854.87" cy="403.51" r="4.3"/><circle cx="857.56" cy="404.81" r="4.3"/><circle cx="859.07" cy="401.79" r="4.3"/><circle cx="859.51" cy="402.67" r="4.3"/><circle cx="861.18" cy="396.35" r="4.3"/><circle cx="863.57" cy="406.95" r="4.3"/><circle cx="865.44" cy="401.82" r="4.3"/><circle cx="865.74" cy="399.27" r="4.3"/><circle cx="867.57" cy="403.69" r="4.3"/><circle cx="869.22" cy="402.81" r="4.3"/><circle cx="871.01" cy="394.23" r="4.3"/><circle cx="873.28" cy="392.57" r="4.3"/><circle cx="874.22" cy="391.20" r="4.3"/><circle cx="875.48" cy="398.41" r="4.3"/><circle cx="876.86" cy="398.39" r="4.3"/><circle cx="878.51" cy="396.12" r="4.3"/><circle cx="880.15" cy="395.69" r="4.3"/><circle cx="881.69" cy="399.32" r="4.3"/><circle cx="883.26" cy="404.95" r="4.3"/><circle cx="884.17" cy="401.01" r="4.3"/><circle cx="886.45" cy="396.00" r="4.3"/><circle cx="887.50" cy="398.15" r="4.3"/><circle cx="888.84" cy="396.99" r="4.3"/><circle cx="891.00" cy="400.90" r="4.3"/><circle cx="892.13" cy="398.68" r="4.3"/><circle cx="893.31" cy="394.73" r="4.3"/><circle cx="895.49" cy="398.78" r="4.3"/><circle cx="897.32" cy="398.17" r="4.3"/><circle cx="899.45" cy="395.15" r="4.3"/><circle cx="900.04" cy="401.29" r="4.3"/><circle cx="901.47" cy="394.41" r="4.3"/><circle cx="903.03" cy="394.89" r="4.3"/><circle cx="904.86" cy="392.04" r="4.3"/><circle cx="905.69" cy="396.84" r="4.3"/><circle cx="907.29" cy="397.23" r="4.3"/><circle cx="909.95" cy="399.74" r="4.3"/><circle cx="910.90" cy="399.12" r="4.3"/><circle cx="912.21" cy="394.26" r="4.3"/><circle cx="914.38" cy="404.86" r="4.3"/><circle cx="916.16" cy="401.42" r="4.3"/><circle cx="916.89" cy="393.92" r="4.3"/><circle cx="919.17" cy="402.02" r="4.3"/><circle cx="920.47" cy="401.81" r="4.3"/><circle cx="921.06" cy="398.62" r="4.3"/><circle cx="923.52" cy="389.62" r="4.3"/><circle cx="925.08" cy="394.46" r="4.3"/><circle cx="925.63" cy="402.05" r="4.3"/><circle cx="928.06" cy="394.89" r="4.3"/><circle cx="928.68" cy="396.93" r="4.3"/><circle cx="931.30" cy="393.90" r="4.3"/><circle cx="933.32" cy="398.72" r="4.3"/><circle cx="934.54" cy="397.21" r="4.3"/><circle cx="935.53" cy="398.16" r="4.3"/><circle cx="937.08" cy="395.18" r="4.3"/><circle cx="938.60" cy="400.79" r="4.3"/><circle cx="940.61" cy="400.88" r="4.3"/><circle cx="941.09" cy="403.86" r="4.3"/><circle cx="943.58" cy="403.62" r="4.3"/><circle cx="944.93" cy="400.81" r="4.3"/><circle cx="946.08" cy="400.67" r="4.3"/><circle cx="948.65" cy="392.68" r="4.3"/><circle cx="949.00" cy="396.88" r="4.3"/><circle cx="950.87" cy="393.51" r="4.3"/><circle cx="951.94" cy="398.26" r="4.3"/><circle cx="954.68" cy="398.89" r="4.3"/><circle cx="955.51" cy="399.88" r="4.3"/><circle cx="956.96" cy="396.29" r="4.3"/><circle cx="958.68" cy="393.05" r="4.3"/><circle cx="960.53" cy="395.44" r="4.3"/><circle cx="961.14" cy="403.54" r="4.3"/><circle cx="963.69" cy="402.05" r="4.3"/><circle cx="964.37" cy="404.09" r="4.3"/><circle cx="966.14" cy="402.34" r="4.3"/><circle cx="968.07" cy="403.86" r="4.3"/><circle cx="969.49" cy="398.40" r="4.3"/><circle cx="971.54" cy="404.95" r="4.3"/><circle cx="972.31" cy="399.37" r="4.3"/><circle cx="974.84" cy="401.21" r="4.3"/><circle cx="975.33" cy="402.79" r="4.3"/><circle cx="976.77" cy="401.77" r="4.3"/><circle cx="979.05" cy="402.16" r="4.3"/><circle cx="979.53" cy="403.56" r="4.3"/><circle cx="982.28" cy="401.24" r="4.3"/><circle cx="983.19" cy="408.94" r="4.3"/><circle cx="985.03" cy="397.21" r="4.3"/><circle cx="987.03" cy="402.59" r="4.3"/></g></svg>
</body></html>
